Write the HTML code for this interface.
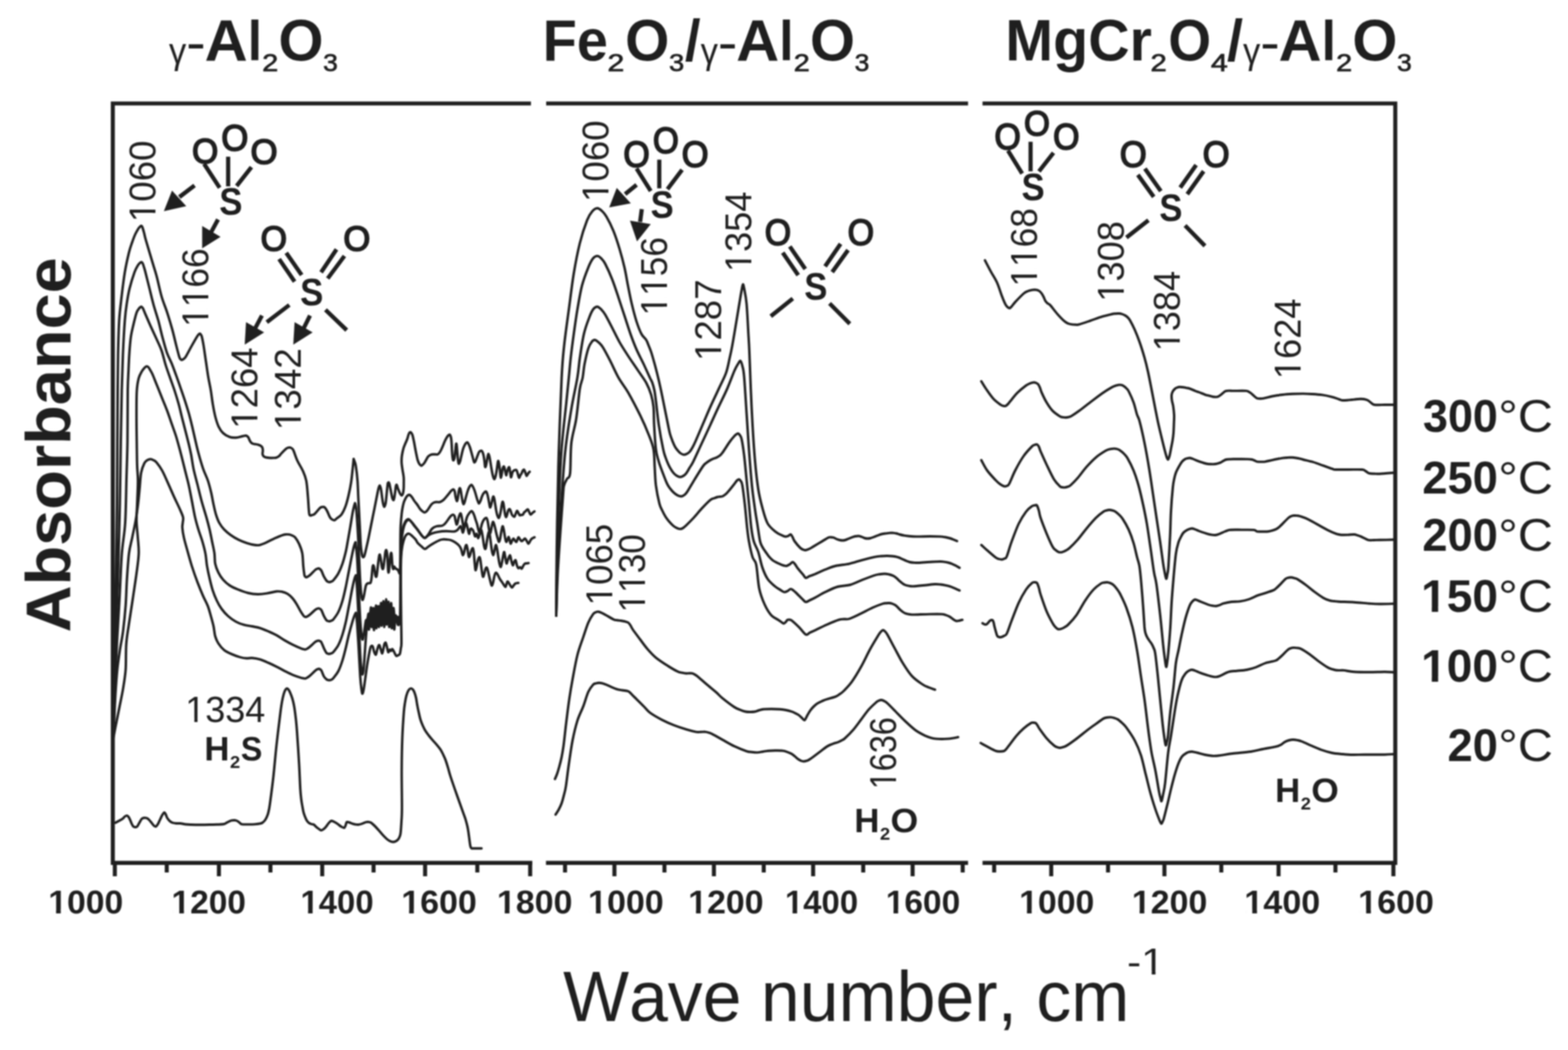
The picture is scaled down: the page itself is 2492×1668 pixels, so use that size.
<!DOCTYPE html>
<html lang="en"><head><meta charset="utf-8"><title>IR spectra</title>
<style>
html,body{margin:0;padding:0;background:#fff;}
body{width:2492px;height:1668px;overflow:hidden;}
svg{display:block;filter:blur(0.9px);}
text{font-family:"Liberation Sans",sans-serif;fill:#1f1f1f;}
.nk{font-kerning:none;}
.b{font-weight:700;}
.ax{stroke:#1f1f1f;stroke-width:6.4;fill:none;stroke-linecap:butt;}
.cv{stroke:#1f1f1f;stroke-width:3.9;fill:none;stroke-linejoin:round;stroke-linecap:round;}
.bd{stroke:#1f1f1f;stroke-width:6.6;fill:none;stroke-linecap:butt;}
.ar{fill:#1f1f1f;stroke:none;}
</style></head><body>
<svg xmlns="http://www.w3.org/2000/svg" width="2492" height="1668" viewBox="0 0 2492 1668">
<rect width="2492" height="1668" fill="#fff"/>
<path class="ax" d="M843.8,164.4 H179.3 V1370.7 H846" stroke-linejoin="miter"/>
<line class="ax" x1="868" y1="164.4" x2="1538.5" y2="164.4"/>
<line class="ax" x1="867.7" y1="1370.7" x2="1538.5" y2="1370.7"/>
<path class="ax" d="M1561.5,164.4 H2217.5 V1370.7 H1561.5" stroke-linejoin="miter"/>
<line class="ax" x1="182.5" y1="1370.7" x2="182.5" y2="1392"/>
<line class="ax" x1="347.9" y1="1370.7" x2="347.9" y2="1392"/>
<line class="ax" x1="512.1" y1="1370.7" x2="512.1" y2="1392"/>
<line class="ax" x1="675.6" y1="1370.7" x2="675.6" y2="1392"/>
<line class="ax" x1="842.6" y1="1370.7" x2="842.6" y2="1392"/>
<line class="ax" x1="265" y1="1370.7" x2="265" y2="1386"/>
<line class="ax" x1="429.8" y1="1370.7" x2="429.8" y2="1386"/>
<line class="ax" x1="593.7" y1="1370.7" x2="593.7" y2="1386"/>
<line class="ax" x1="758.6" y1="1370.7" x2="758.6" y2="1386"/>
<line class="ax" x1="976.5" y1="1370.7" x2="976.5" y2="1392"/>
<line class="ax" x1="1134.6" y1="1370.7" x2="1134.6" y2="1392"/>
<line class="ax" x1="1292.3" y1="1370.7" x2="1292.3" y2="1392"/>
<line class="ax" x1="1450.4" y1="1370.7" x2="1450.4" y2="1392"/>
<line class="ax" x1="898" y1="1370.7" x2="898" y2="1386"/>
<line class="ax" x1="1056" y1="1370.7" x2="1056" y2="1386"/>
<line class="ax" x1="1213.8" y1="1370.7" x2="1213.8" y2="1386"/>
<line class="ax" x1="1371.9" y1="1370.7" x2="1371.9" y2="1386"/>
<line class="ax" x1="1530" y1="1370.7" x2="1530" y2="1386"/>
<line class="ax" x1="1670.7" y1="1370.7" x2="1670.7" y2="1392"/>
<line class="ax" x1="1850.6" y1="1370.7" x2="1850.6" y2="1392"/>
<line class="ax" x1="2032" y1="1370.7" x2="2032" y2="1392"/>
<line class="ax" x1="2214.5" y1="1370.7" x2="2214.5" y2="1392"/>
<line class="ax" x1="1580" y1="1370.7" x2="1580" y2="1386"/>
<line class="ax" x1="1761" y1="1370.7" x2="1761" y2="1386"/>
<line class="ax" x1="1941" y1="1370.7" x2="1941" y2="1386"/>
<line class="ax" x1="2122.4" y1="1370.7" x2="2122.4" y2="1386"/>
<g transform="translate(76.65,1451.00) scale(1.0211,1.0000)"><text font-size="52.50" class="b nk">1000</text><rect x="2.62" y="-6.33" width="9.61" height="8.83" fill="#fff"/><rect x="19.48" y="-6.33" width="8.87" height="8.83" fill="#fff"/></g>
<g transform="translate(272.57,1451.00) scale(1.0139,1.0000)"><text font-size="52.50" class="b nk">1200</text><rect x="2.62" y="-6.33" width="9.61" height="8.83" fill="#fff"/><rect x="19.48" y="-6.33" width="8.87" height="8.83" fill="#fff"/></g>
<g transform="translate(477.43,1451.00) scale(0.9959,1.0000)"><text font-size="52.50" class="b nk">1400</text><rect x="2.62" y="-6.33" width="9.61" height="8.83" fill="#fff"/><rect x="19.48" y="-6.33" width="8.87" height="8.83" fill="#fff"/></g>
<g transform="translate(637.63,1451.00) scale(1.0283,1.0000)"><text font-size="52.50" class="b nk">1600</text><rect x="2.62" y="-6.33" width="9.61" height="8.83" fill="#fff"/><rect x="19.48" y="-6.33" width="8.87" height="8.83" fill="#fff"/></g>
<g transform="translate(789.63,1451.00) scale(1.0283,1.0000)"><text font-size="52.50" class="b nk">1800</text><rect x="2.62" y="-6.33" width="9.61" height="8.83" fill="#fff"/><rect x="19.48" y="-6.33" width="8.87" height="8.83" fill="#fff"/></g>
<g transform="translate(934.62,1451.00) scale(1.0292,1.0000)"><text font-size="52.50" class="b nk">1000</text><rect x="2.62" y="-6.33" width="9.61" height="8.83" fill="#fff"/><rect x="19.48" y="-6.33" width="8.87" height="8.83" fill="#fff"/></g>
<g transform="translate(1093.63,1451.00) scale(1.0274,1.0000)"><text font-size="52.50" class="b nk">1200</text><rect x="2.62" y="-6.33" width="9.61" height="8.83" fill="#fff"/><rect x="19.48" y="-6.33" width="8.87" height="8.83" fill="#fff"/></g>
<g transform="translate(1247.43,1451.00) scale(0.9959,1.0000)"><text font-size="52.50" class="b nk">1400</text><rect x="2.62" y="-6.33" width="9.61" height="8.83" fill="#fff"/><rect x="19.48" y="-6.33" width="8.87" height="8.83" fill="#fff"/></g>
<g transform="translate(1407.68,1451.00) scale(1.0130,1.0000)"><text font-size="52.50" class="b nk">1600</text><rect x="2.62" y="-6.33" width="9.61" height="8.83" fill="#fff"/><rect x="19.48" y="-6.33" width="8.87" height="8.83" fill="#fff"/></g>
<g transform="translate(1619.64,1451.00) scale(1.0238,1.0000)"><text font-size="52.50" class="b nk">1000</text><rect x="2.62" y="-6.33" width="9.61" height="8.83" fill="#fff"/><rect x="19.48" y="-6.33" width="8.87" height="8.83" fill="#fff"/></g>
<g transform="translate(1798.63,1451.00) scale(1.0283,1.0000)"><text font-size="52.50" class="b nk">1200</text><rect x="2.62" y="-6.33" width="9.61" height="8.83" fill="#fff"/><rect x="19.48" y="-6.33" width="8.87" height="8.83" fill="#fff"/></g>
<g transform="translate(1977.61,1451.00) scale(1.0327,1.0000)"><text font-size="52.50" class="b nk">1400</text><rect x="2.62" y="-6.33" width="9.61" height="8.83" fill="#fff"/><rect x="19.48" y="-6.33" width="8.87" height="8.83" fill="#fff"/></g>
<g transform="translate(2158.62,1451.00) scale(1.0301,1.0000)"><text font-size="52.50" class="b nk">1600</text><rect x="2.62" y="-6.33" width="9.61" height="8.83" fill="#fff"/><rect x="19.48" y="-6.33" width="8.87" height="8.83" fill="#fff"/></g>
<text transform="translate(894.95,1622.30) scale(0.9731,1.0000)" font-size="114.00" class="nk">Wave number, cm</text>
<g transform="translate(1791.28,1547.50) scale(1.1453,1.0000)"><text font-size="58.50" class="nk">-1</text><rect x="22.99" y="-5.36" width="11.17" height="7.86" fill="#fff"/><rect x="39.39" y="-5.36" width="10.51" height="7.86" fill="#fff"/></g>
<text transform="translate(112.00,1004.58) rotate(-90) scale(1.0262,1)" font-size="100.50" class="b nk">Absorbance</text>
<text transform="translate(268.62,101.40) scale(0.9339,1.0000)" font-size="59.00" class="nk">γ</text>
<text transform="translate(295.87,95.80) scale(1.1061,1.0000)" font-size="85.00" class="nk">-</text>
<text transform="translate(325.13,95.80) scale(1.0175,1.0000)" font-size="93.00" class="b nk">A</text>
<text transform="translate(393.80,95.80) scale(0.8759,0.9492)" font-size="93.00" class="b nk">l</text>
<text transform="translate(416.81,113.00) scale(1.1603,1.0000)" font-size="39.40" class="nk" stroke="#1f1f1f" stroke-width="1.1">2</text>
<text transform="translate(442.42,95.80) scale(0.9902,1.0000)" font-size="93.00" class="b nk">O</text>
<text transform="translate(513.42,113.00) scale(1.0687,1.0000)" font-size="39.40" class="nk" stroke="#1f1f1f" stroke-width="1.1">3</text>
<text transform="translate(862.60,95.80) scale(0.9554,1.0000)" font-size="93.00" class="b nk">Fe</text>
<text transform="translate(965.40,113.00) scale(1.2160,1.0000)" font-size="39.40" class="nk" stroke="#1f1f1f" stroke-width="1.1">2</text>
<text transform="translate(993.59,95.80) scale(0.9716,1.0000)" font-size="93.00" class="b nk">O</text>
<text transform="translate(1063.37,113.00) scale(1.1007,1.0000)" font-size="39.40" class="nk" stroke="#1f1f1f" stroke-width="1.1">3</text>
<text transform="translate(1088.50,95.80) scale(0.9646,1.0000)" font-size="93.00" class="b nk">/</text>
<text transform="translate(1113.42,101.40) scale(0.9339,1.0000)" font-size="59.00" class="nk">γ</text>
<text transform="translate(1140.67,95.80) scale(1.1061,1.0000)" font-size="85.00" class="nk">-</text>
<text transform="translate(1169.93,95.80) scale(1.0175,1.0000)" font-size="93.00" class="b nk">A</text>
<text transform="translate(1238.60,95.80) scale(0.8759,0.9492)" font-size="93.00" class="b nk">l</text>
<text transform="translate(1261.61,113.00) scale(1.1603,1.0000)" font-size="39.40" class="nk" stroke="#1f1f1f" stroke-width="1.1">2</text>
<text transform="translate(1287.22,95.80) scale(0.9902,1.0000)" font-size="93.00" class="b nk">O</text>
<text transform="translate(1358.22,113.00) scale(1.0687,1.0000)" font-size="39.40" class="nk" stroke="#1f1f1f" stroke-width="1.1">3</text>
<text transform="translate(1597.85,95.80) scale(0.9798,1.0000)" font-size="93.00" class="b nk">MgCr</text>
<text transform="translate(1828.38,113.00) scale(1.1770,1.0000)" font-size="39.40" class="nk" stroke="#1f1f1f" stroke-width="1.1">2</text>
<text transform="translate(1856.70,95.80) scale(0.9407,1.0000)" font-size="93.00" class="b nk">O</text>
<text transform="translate(1924.42,113.00) scale(1.2213,1.0000)" font-size="39.40" class="nk" stroke="#1f1f1f" stroke-width="1.1">4</text>
<text transform="translate(1950.08,95.80) scale(0.9897,1.0000)" font-size="93.00" class="b nk">/</text>
<text transform="translate(1975.42,101.40) scale(0.9339,1.0000)" font-size="59.00" class="nk">γ</text>
<text transform="translate(2002.67,95.80) scale(1.1061,1.0000)" font-size="85.00" class="nk">-</text>
<text transform="translate(2031.93,95.80) scale(1.0175,1.0000)" font-size="93.00" class="b nk">A</text>
<text transform="translate(2100.60,95.80) scale(0.8759,0.9492)" font-size="93.00" class="b nk">l</text>
<text transform="translate(2123.61,113.00) scale(1.1603,1.0000)" font-size="39.40" class="nk" stroke="#1f1f1f" stroke-width="1.1">2</text>
<text transform="translate(2149.22,95.80) scale(0.9902,1.0000)" font-size="93.00" class="b nk">O</text>
<text transform="translate(2220.22,113.00) scale(1.0687,1.0000)" font-size="39.40" class="nk" stroke="#1f1f1f" stroke-width="1.1">3</text>
<text transform="translate(2261.39,685.70) scale(0.9927,1.0000)" font-size="72.00" class="b nk">300</text>
<text transform="translate(2381.36,685.70) scale(1.0732,1.0000)" font-size="72.00" class="nk">°C</text>
<text transform="translate(2260.48,784.00) scale(1.0004,1.0000)" font-size="72.00" class="b nk">250</text>
<text transform="translate(2381.36,784.00) scale(1.0732,1.0000)" font-size="72.00" class="nk">°C</text>
<text transform="translate(2260.48,874.50) scale(1.0004,1.0000)" font-size="72.00" class="b nk">200</text>
<text transform="translate(2381.36,874.50) scale(1.0732,1.0000)" font-size="72.00" class="nk">°C</text>
<g transform="translate(2258.42,972.00) scale(1.0180,1.0000)"><text font-size="72.00" class="b nk">150</text><rect x="3.60" y="-8.35" width="13.18" height="10.85" fill="#fff"/><rect x="26.71" y="-8.35" width="12.17" height="10.85" fill="#fff"/></g>
<text transform="translate(2381.36,972.00) scale(1.0732,1.0000)" font-size="72.00" class="nk">°C</text>
<g transform="translate(2258.42,1083.00) scale(1.0180,1.0000)"><text font-size="72.00" class="b nk">100</text><rect x="3.60" y="-8.35" width="13.18" height="10.85" fill="#fff"/><rect x="26.71" y="-8.35" width="12.17" height="10.85" fill="#fff"/></g>
<text transform="translate(2381.36,1083.00) scale(1.0732,1.0000)" font-size="72.00" class="nk">°C</text>
<text transform="translate(2300.48,1209.40) scale(1.0013,1.0000)" font-size="72.00" class="b nk">20</text>
<text transform="translate(2381.36,1209.40) scale(1.0732,1.0000)" font-size="72.00" class="nk">°C</text>
<g transform="translate(246.80,352.87) rotate(-90) scale(0.9876,1)"><text font-size="59.00" class="nk">1060</text><rect x="3.54" y="-5.40" width="11.27" height="7.90" fill="#fff"/><rect x="20.08" y="-5.40" width="10.60" height="7.90" fill="#fff"/></g>
<g transform="translate(331.30,519.20) rotate(-90) scale(0.9497,1)"><text font-size="59.00" class="nk">1166</text><rect x="3.54" y="-5.40" width="11.27" height="7.90" fill="#fff"/><rect x="20.08" y="-5.40" width="10.60" height="7.90" fill="#fff"/><rect x="36.35" y="-5.40" width="11.27" height="7.90" fill="#fff"/><rect x="52.89" y="-5.40" width="10.60" height="7.90" fill="#fff"/></g>
<g transform="translate(408.70,680.95) rotate(-90) scale(0.9821,1)"><text font-size="59.00" class="nk">1264</text><rect x="3.54" y="-5.40" width="11.27" height="7.90" fill="#fff"/><rect x="20.08" y="-5.40" width="10.60" height="7.90" fill="#fff"/></g>
<g transform="translate(477.80,683.40) rotate(-90) scale(0.9934,1)"><text font-size="59.00" class="nk">1342</text><rect x="3.54" y="-5.40" width="11.27" height="7.90" fill="#fff"/><rect x="20.08" y="-5.40" width="10.60" height="7.90" fill="#fff"/></g>
<g transform="translate(966.50,320.87) rotate(-90) scale(0.9876,1)"><text font-size="59.00" class="nk">1060</text><rect x="3.54" y="-5.40" width="11.27" height="7.90" fill="#fff"/><rect x="20.08" y="-5.40" width="10.60" height="7.90" fill="#fff"/></g>
<g transform="translate(1060.00,501.20) rotate(-90) scale(0.9497,1)"><text font-size="59.00" class="nk">1156</text><rect x="3.54" y="-5.40" width="11.27" height="7.90" fill="#fff"/><rect x="20.08" y="-5.40" width="10.60" height="7.90" fill="#fff"/><rect x="36.35" y="-5.40" width="11.27" height="7.90" fill="#fff"/><rect x="52.89" y="-5.40" width="10.60" height="7.90" fill="#fff"/></g>
<g transform="translate(1145.80,573.36) rotate(-90) scale(0.9854,1)"><text font-size="59.00" class="nk">1287</text><rect x="3.54" y="-5.40" width="11.27" height="7.90" fill="#fff"/><rect x="20.08" y="-5.40" width="10.60" height="7.90" fill="#fff"/></g>
<g transform="translate(1194.40,432.11) rotate(-90) scale(0.9733,1)"><text font-size="59.00" class="nk">1354</text><rect x="3.54" y="-5.40" width="11.27" height="7.90" fill="#fff"/><rect x="20.08" y="-5.40" width="10.60" height="7.90" fill="#fff"/></g>
<g transform="translate(1648.00,455.20) rotate(-90) scale(0.9497,1)"><text font-size="59.00" class="nk">1168</text><rect x="3.54" y="-5.40" width="11.27" height="7.90" fill="#fff"/><rect x="20.08" y="-5.40" width="10.60" height="7.90" fill="#fff"/><rect x="36.35" y="-5.40" width="11.27" height="7.90" fill="#fff"/><rect x="52.89" y="-5.40" width="10.60" height="7.90" fill="#fff"/></g>
<g transform="translate(1785.50,479.32) rotate(-90) scale(0.9770,1)"><text font-size="59.00" class="nk">1308</text><rect x="3.54" y="-5.40" width="11.27" height="7.90" fill="#fff"/><rect x="20.08" y="-5.40" width="10.60" height="7.90" fill="#fff"/></g>
<g transform="translate(1874.60,558.11) rotate(-90) scale(0.9741,1)"><text font-size="59.00" class="nk">1384</text><rect x="3.54" y="-5.40" width="11.27" height="7.90" fill="#fff"/><rect x="20.08" y="-5.40" width="10.60" height="7.90" fill="#fff"/></g>
<g transform="translate(2067.00,602.31) rotate(-90) scale(0.9749,1)"><text font-size="59.00" class="nk">1624</text><rect x="3.54" y="-5.40" width="11.27" height="7.90" fill="#fff"/><rect x="20.08" y="-5.40" width="10.60" height="7.90" fill="#fff"/></g>
<g transform="translate(973.30,961.67) rotate(-90) scale(0.9879,1)"><text font-size="59.00" class="nk">1065</text><rect x="3.54" y="-5.40" width="11.27" height="7.90" fill="#fff"/><rect x="20.08" y="-5.40" width="10.60" height="7.90" fill="#fff"/></g>
<g transform="translate(1025.00,973.00) rotate(-90) scale(0.9482,1)"><text font-size="59.00" class="nk">1130</text><rect x="3.54" y="-5.40" width="11.27" height="7.90" fill="#fff"/><rect x="20.08" y="-5.40" width="10.60" height="7.90" fill="#fff"/><rect x="36.35" y="-5.40" width="11.27" height="7.90" fill="#fff"/><rect x="52.89" y="-5.40" width="10.60" height="7.90" fill="#fff"/></g>
<g transform="translate(1423.60,1253.86) rotate(-90) scale(0.8732,1)"><text font-size="59.00" class="nk">1636</text><rect x="3.54" y="-5.40" width="11.27" height="7.90" fill="#fff"/><rect x="20.08" y="-5.40" width="10.60" height="7.90" fill="#fff"/></g>
<g transform="translate(294.51,1146.50) scale(0.9938,1.0000)"><text font-size="57.50" class="nk">1334</text><rect x="3.45" y="-5.28" width="10.98" height="7.78" fill="#fff"/><rect x="19.57" y="-5.28" width="10.33" height="7.78" fill="#fff"/></g>
<text transform="translate(324.67,1208.00) scale(1.0244,1.0000)" font-size="54.00" class="b nk">H</text>
<text transform="translate(365.38,1220.00) scale(1.0606,1.0000)" font-size="27.50" class="b nk">2</text>
<text transform="translate(382.86,1208.00) scale(0.9484,1.0000)" font-size="54.00" class="b nk">S</text>
<text transform="translate(1357.87,1321.50) scale(1.0244,1.0000)" font-size="54.00" class="b nk">H</text>
<text transform="translate(1398.58,1333.50) scale(1.0606,1.0000)" font-size="27.50" class="b nk">2</text>
<text transform="translate(1415.33,1321.50) scale(1.0498,1.0000)" font-size="54.00" class="b nk">O</text>
<text transform="translate(2026.57,1273.80) scale(1.0244,1.0000)" font-size="54.00" class="b nk">H</text>
<text transform="translate(2067.28,1285.80) scale(1.0606,1.0000)" font-size="27.50" class="b nk">2</text>
<text transform="translate(2084.05,1273.80) scale(1.0418,1.0000)" font-size="54.00" class="b nk">O</text>
<text transform="translate(351.78,238.92) scale(0.9507,1.0000)" font-size="57.95" class="nk" stroke="#1f1f1f" stroke-width="2.6" stroke-linejoin="round">O</text>
<text transform="translate(305.36,259.14) scale(0.9483,1.0000)" font-size="56.40" class="nk" stroke="#1f1f1f" stroke-width="2.6" stroke-linejoin="round">O</text>
<text transform="translate(398.28,259.64) scale(0.9769,1.0000)" font-size="56.40" class="nk" stroke="#1f1f1f" stroke-width="2.6" stroke-linejoin="round">O</text>
<text transform="translate(348.54,341.18) scale(0.8962,1.0000)" font-size="61.63" class="b nk">S</text>
<line class="bd" x1="324.4" y1="260.4" x2="349.1" y2="298.2"/>
<line class="bd" x1="362.6" y1="248.9" x2="362.6" y2="296"/>
<line class="bd" x1="399.6" y1="265.5" x2="376.1" y2="295.4"/>
<line class="bd" x1="309.2" y1="294.7" x2="285.1" y2="313"/>
<polygon class="ar" points="260.4,335.4 273.4,302.7 296,327.4"/>
<line class="bd" x1="346.5" y1="348.6" x2="335.6" y2="368.7"/>
<polygon class="ar" points="321.3,394.6 321.3,359 350.5,376.2"/>
<text transform="translate(414.35,397.74) scale(0.9631,1.0000)" font-size="55.83" class="nk" stroke="#1f1f1f" stroke-width="2.6" stroke-linejoin="round">O</text>
<text transform="translate(545.69,397.74) scale(0.9841,1.0000)" font-size="55.83" class="nk" stroke="#1f1f1f" stroke-width="2.6" stroke-linejoin="round">O</text>
<text transform="translate(477.04,485.29) scale(0.8983,1.0000)" font-size="61.48" class="b nk">S</text>
<line class="bd" x1="443.6" y1="411.5" x2="468.2" y2="447.3"/>
<line class="bd" x1="454.9" y1="401.7" x2="479.4" y2="436.8"/>
<line class="bd" x1="534.8" y1="396.1" x2="510.3" y2="432.6"/>
<line class="bd" x1="547.4" y1="406.6" x2="520.8" y2="442.4"/>
<line class="bd" x1="459.8" y1="484.5" x2="424" y2="511.8"/>
<line class="bd" x1="517.3" y1="492.2" x2="551" y2="524.5"/>
<line class="bd" x1="416.3" y1="501.3" x2="405.8" y2="521"/>
<polygon class="ar" points="388.9,547.6 391,511.8 419.8,528"/>
<line class="bd" x1="492.7" y1="501.3" x2="482.9" y2="521"/>
<polygon class="ar" points="466.1,547.6 468.2,511.8 496.9,528"/>
<text transform="translate(990.85,265.13) scale(0.9464,1.0000)" font-size="56.82" class="nk" stroke="#1f1f1f" stroke-width="2.6" stroke-linejoin="round">O</text>
<text transform="translate(1037.79,243.33) scale(0.9283,1.0000)" font-size="56.82" class="nk" stroke="#1f1f1f" stroke-width="2.6" stroke-linejoin="round">O</text>
<text transform="translate(1083.40,265.13) scale(0.9618,1.0000)" font-size="56.82" class="nk" stroke="#1f1f1f" stroke-width="2.6" stroke-linejoin="round">O</text>
<text transform="translate(1033.95,346.29) scale(0.8956,1.0000)" font-size="61.48" class="b nk">S</text>
<line class="bd" x1="1011.7" y1="267.7" x2="1034.2" y2="303.4"/>
<line class="bd" x1="1047.8" y1="253.6" x2="1047.8" y2="299.2"/>
<line class="bd" x1="1084" y1="269.8" x2="1060.8" y2="300.6"/>
<line class="bd" x1="1011.7" y1="293.6" x2="993.5" y2="308.4"/>
<polygon class="ar" points="968.2,329.4 980.2,298.5 1002.6,323"/>
<line class="bd" x1="1020" y1="332.2" x2="1017.3" y2="352.5"/>
<polygon class="ar" points="1012.4,383.4 1001.2,350.4 1034.2,356"/>
<text transform="translate(1215.45,388.93) scale(0.9438,1.0000)" font-size="56.82" class="nk" stroke="#1f1f1f" stroke-width="2.6" stroke-linejoin="round">O</text>
<text transform="translate(1347.25,388.93) scale(0.9464,1.0000)" font-size="56.82" class="nk" stroke="#1f1f1f" stroke-width="2.6" stroke-linejoin="round">O</text>
<text transform="translate(1278.15,475.80) scale(0.9102,1.0000)" font-size="60.49" class="b nk">S</text>
<line class="bd" x1="1244" y1="401.4" x2="1268.6" y2="437.1"/>
<line class="bd" x1="1255.2" y1="391.5" x2="1279.8" y2="427.3"/>
<line class="bd" x1="1335.9" y1="387.3" x2="1311.3" y2="423.1"/>
<line class="bd" x1="1347.8" y1="397.2" x2="1322.6" y2="432.2"/>
<line class="bd" x1="1260" y1="474.3" x2="1225" y2="502.4"/>
<line class="bd" x1="1318.4" y1="482" x2="1350.6" y2="514.3"/>
<text transform="translate(1580.45,236.73) scale(0.9464,1.0000)" font-size="56.82" class="nk" stroke="#1f1f1f" stroke-width="2.6" stroke-linejoin="round">O</text>
<text transform="translate(1627.49,214.94) scale(0.9448,1.0000)" font-size="55.83" class="nk" stroke="#1f1f1f" stroke-width="2.6" stroke-linejoin="round">O</text>
<text transform="translate(1673.75,236.73) scale(0.9464,1.0000)" font-size="56.82" class="nk" stroke="#1f1f1f" stroke-width="2.6" stroke-linejoin="round">O</text>
<text transform="translate(1623.54,317.90) scale(0.9130,1.0000)" font-size="60.49" class="b nk">S</text>
<line class="bd" x1="1602" y1="239.3" x2="1624.5" y2="275.7"/>
<line class="bd" x1="1637.9" y1="225.2" x2="1637.9" y2="272.2"/>
<line class="bd" x1="1674.3" y1="242.8" x2="1651.2" y2="272.2"/>
<text transform="translate(1779.70,264.53) scale(0.9668,1.0000)" font-size="56.68" class="nk" stroke="#1f1f1f" stroke-width="2.6" stroke-linejoin="round">O</text>
<text transform="translate(1911.60,264.53) scale(0.9668,1.0000)" font-size="56.68" class="nk" stroke="#1f1f1f" stroke-width="2.6" stroke-linejoin="round">O</text>
<text transform="translate(1842.55,350.70) scale(0.9102,1.0000)" font-size="60.49" class="b nk">S</text>
<line class="bd" x1="1808.4" y1="277.7" x2="1833.6" y2="312.7"/>
<line class="bd" x1="1819.6" y1="267.9" x2="1844.9" y2="303.6"/>
<line class="bd" x1="1901" y1="262.2" x2="1875.7" y2="298"/>
<line class="bd" x1="1912.9" y1="272" x2="1886.9" y2="308.5"/>
<line class="bd" x1="1825.2" y1="349.9" x2="1790.2" y2="377.3"/>
<line class="bd" x1="1883.4" y1="358.3" x2="1915" y2="390.6"/>
<path class="cv" d="M180.5,1090.0C180.6,1088.3 180.8,1091.7 181.0,1080.0C181.2,1068.3 181.6,1041.7 182.0,1020.0C182.4,998.3 183.0,973.3 183.5,950.0C184.0,926.7 184.6,905.0 185.0,880.0C185.4,855.0 185.8,830.0 186.0,800.0C186.2,770.0 186.3,730.0 186.5,700.0C186.7,670.0 186.8,643.3 187.0,620.0C187.2,596.7 187.3,578.5 187.7,560.0C188.1,541.5 188.5,523.9 189.4,509.0C190.3,494.1 191.8,483.6 193.3,470.8C194.8,458.0 196.5,443.9 198.4,432.4C200.3,420.9 202.9,409.6 204.8,401.7C206.7,393.8 208.3,389.9 210.0,385.0C211.7,380.1 213.3,375.7 215.0,372.0C216.7,368.3 218.7,365.1 220.0,363.0C221.3,360.9 222.2,360.3 223.0,359.6C223.8,358.9 224.1,358.5 224.7,358.8C225.3,359.1 225.8,359.6 226.5,361.5C227.2,363.4 228.1,366.8 229.0,370.0C229.9,373.2 229.3,372.7 231.7,381.0C234.1,389.3 240.3,409.9 243.2,419.6C246.1,429.3 246.7,430.4 249.0,439.0C251.3,447.6 254.0,461.4 256.8,471.0C259.6,480.6 263.0,488.2 265.8,496.8C268.6,505.4 271.1,513.9 273.5,522.4C275.9,530.9 278.0,540.5 279.9,548.0C281.8,555.5 283.8,563.4 285.0,567.2C286.2,571.0 286.4,569.9 287.0,570.6C287.6,571.4 288.1,571.7 288.8,571.7C289.6,571.7 290.5,571.3 291.5,570.5C292.5,569.7 292.9,570.3 295.0,567.0C297.1,563.7 301.0,555.9 304.0,550.6C307.0,545.3 311.0,538.3 313.0,535.0C315.0,531.7 315.2,531.8 316.0,531.0C316.8,530.2 317.1,530.0 317.6,530.0C318.1,530.0 318.5,530.5 319.0,531.3C319.5,532.1 320.1,532.2 320.8,535.0C321.5,537.8 322.3,541.6 323.4,548.0C324.5,554.4 325.9,565.1 327.2,573.6C328.5,582.1 329.7,591.3 331.0,599.0C332.3,606.7 333.8,612.8 335.0,620.0C336.2,627.2 337.0,634.9 338.2,642.0C339.4,649.1 340.8,656.4 342.3,662.4C343.9,668.4 345.4,673.5 347.5,677.8C349.6,682.1 351.7,685.3 354.6,688.0C357.5,690.7 361.5,693.0 364.9,694.2C368.3,695.4 371.6,695.4 375.0,695.2C378.4,695.0 382.7,693.5 385.4,693.0C388.1,692.5 389.5,691.8 391.0,692.0C392.5,692.2 393.5,693.2 394.5,694.5C395.5,695.8 396.2,698.5 397.0,700.0C397.8,701.5 398.6,702.7 399.5,703.5C400.4,704.3 401.2,704.6 402.3,705.0C403.4,705.4 404.7,705.4 406.0,705.6C407.3,705.8 408.7,706.0 410.0,706.4C411.3,706.8 412.9,707.4 414.0,708.0C415.1,708.6 415.8,709.2 416.4,710.0C417.0,710.8 417.3,711.9 417.5,713.0C417.7,714.1 417.7,715.5 417.7,716.6C417.7,717.7 417.3,718.5 417.3,719.5C417.3,720.5 417.1,721.5 417.5,722.5C417.9,723.5 418.8,724.9 420.0,725.6C421.2,726.4 423.2,726.7 425.0,727.0C426.8,727.3 428.8,727.4 430.5,727.5C432.2,727.6 433.5,727.5 435.0,727.4C436.5,727.3 438.0,727.4 439.4,726.9C440.8,726.4 442.2,725.6 443.5,724.5C444.8,723.4 445.1,722.5 447.0,720.5C448.9,718.5 453.0,714.3 454.8,712.8C456.6,711.2 456.9,711.5 458.0,711.2C459.1,710.9 460.2,710.7 461.2,710.9C462.2,711.1 463.1,711.8 464.0,712.5C464.9,713.2 464.9,712.1 466.3,715.4C467.8,718.6 470.1,726.5 472.7,732.0C475.3,737.5 479.3,743.4 481.7,748.7C484.1,754.0 485.5,757.2 486.8,764.0C488.1,770.8 488.8,782.6 489.4,789.6C490.0,796.6 490.2,801.8 490.5,806.0C490.8,810.2 491.1,813.0 491.3,815.0C491.6,817.0 491.6,817.3 492.0,818.0C492.4,818.7 492.8,819.0 493.5,819.0C494.2,819.0 495.4,818.4 496.5,818.0C497.6,817.6 498.0,818.3 500.0,816.5C502.0,814.7 506.5,808.8 508.5,807.0C510.5,805.2 510.8,805.7 512.0,805.5C513.2,805.3 514.7,804.9 516.0,806.0C517.3,807.1 518.7,809.5 520.0,812.0C521.3,814.5 522.8,818.8 524.0,821.0C525.2,823.2 526.2,824.1 527.5,825.0C528.8,825.9 530.4,826.6 531.6,826.4C532.9,826.2 533.1,825.2 535.0,823.7C536.9,822.2 540.4,820.5 542.7,817.3C545.0,814.1 547.1,809.7 549.0,804.6C550.9,799.5 552.5,793.1 554.0,786.7C555.5,780.3 556.9,773.3 558.0,766.3C559.1,759.3 559.9,749.8 560.5,744.6C561.1,739.4 561.2,737.5 561.5,735.0C561.8,732.5 561.9,730.2 562.0,729.3"/>
<path class="cv" d="M562.0,729.3C562.2,729.9 562.9,731.1 563.5,733.0C564.1,734.9 564.8,735.7 565.6,740.8C566.4,745.9 567.6,755.7 568.2,763.8C568.8,771.9 569.0,780.8 569.4,789.3C569.8,797.8 570.3,806.3 570.7,814.8C571.1,823.3 571.6,831.8 572.0,840.3C572.4,848.8 572.8,859.0 573.3,865.8C573.8,872.6 574.7,877.9 575.2,881.0C575.7,884.1 576.1,883.8 576.5,884.5C576.9,885.2 577.3,885.2 577.7,885.0C578.1,884.8 578.6,884.1 579.0,883.0C579.4,881.9 579.3,882.5 580.3,878.6C581.2,874.7 583.1,866.8 584.7,859.4C586.3,852.0 588.1,842.5 589.8,834.0C591.5,825.5 593.3,816.9 595.0,808.4C596.7,799.9 598.9,788.6 600.0,783.0C601.1,777.4 601.3,776.9 601.8,775.0C602.3,773.1 602.8,771.6 603.2,771.4C603.7,771.1 604.1,772.2 604.5,773.5C604.9,774.8 605.2,775.1 605.8,779.0C606.4,782.9 607.6,793.0 608.3,797.0C608.9,801.0 609.3,801.7 609.7,803.0C610.1,804.3 610.5,805.2 610.9,805.0C611.3,804.8 611.8,803.5 612.2,802.0C612.6,800.5 612.8,801.0 613.4,795.7C614.0,790.4 615.4,774.8 616.0,770.0C616.6,765.2 616.7,767.6 617.0,767.0C617.3,766.4 617.6,766.0 617.9,766.3C618.2,766.6 618.6,767.3 619.0,769.0C619.4,770.7 619.8,773.1 620.5,776.5C621.2,779.9 622.4,786.5 623.0,789.3C623.6,792.1 624.0,792.4 624.4,793.3C624.8,794.1 625.2,794.9 625.6,794.4C626.0,793.9 626.4,792.1 626.8,790.0C627.2,787.9 627.6,784.4 628.0,781.6C628.4,778.8 628.7,774.9 629.0,773.0C629.3,771.1 629.6,770.2 630.0,770.0C630.4,769.8 630.8,770.9 631.2,772.0C631.6,773.1 631.8,774.5 632.6,776.5C633.4,778.5 635.0,782.4 635.8,784.0C636.6,785.6 637.0,785.8 637.5,786.3C638.0,786.8 638.5,787.2 639.0,786.7C639.5,786.2 640.1,785.2 640.5,783.5C640.9,781.8 641.3,779.2 641.5,776.5C641.7,773.8 641.7,770.2 641.7,767.0C641.7,763.8 641.9,761.1 641.5,757.4C641.1,753.7 640.0,748.6 639.5,745.0C639.0,741.4 638.5,738.7 638.3,735.7C638.1,732.7 638.2,729.8 638.4,727.0C638.6,724.2 639.1,721.5 639.6,719.0C640.1,716.5 640.7,714.1 641.3,712.0C641.9,709.9 642.4,708.8 643.4,706.4C644.4,704.0 646.1,700.4 647.2,697.5C648.3,694.6 648.9,690.9 649.8,689.0C650.6,687.1 651.5,686.5 652.3,686.4C653.0,686.3 653.7,687.5 654.3,688.5C654.9,689.5 655.3,690.2 655.9,692.5C656.5,694.8 657.3,698.6 658.0,702.0C658.7,705.4 659.3,709.5 660.0,713.0C660.7,716.5 661.3,719.9 662.0,723.0C662.7,726.1 663.2,729.2 664.0,731.5C664.8,733.8 665.6,735.6 666.5,737.0C667.4,738.4 668.4,739.5 669.2,739.7C670.0,740.0 670.6,739.2 671.5,738.5C672.4,737.8 673.3,736.9 674.3,735.6C675.3,734.3 676.3,732.2 677.3,730.5C678.3,728.8 679.3,726.6 680.4,725.3C681.5,724.0 682.8,723.3 684.0,722.7C685.2,722.1 686.3,721.9 687.6,721.7C688.9,721.6 690.6,721.8 692.0,721.8C693.4,721.8 694.7,722.2 695.8,721.7C696.9,721.2 697.6,720.1 698.5,719.0C699.4,717.9 700.0,716.8 700.9,715.0C701.8,713.2 703.0,710.4 704.0,708.0C705.0,705.6 706.0,702.9 707.0,700.7C708.0,698.5 709.1,696.5 710.0,695.0C710.9,693.5 711.5,692.7 712.2,692.0C712.9,691.3 713.5,690.8 714.0,690.6C714.5,690.4 714.9,690.4 715.3,691.0C715.7,691.6 716.2,692.7 716.5,694.0C716.8,695.3 717.1,696.5 717.3,698.7C717.5,700.9 717.7,704.1 717.9,707.0C718.1,709.9 718.1,713.0 718.3,716.0C718.5,719.0 718.7,722.6 719.0,725.0C719.3,727.4 719.6,729.4 719.9,730.4C720.2,731.4 720.6,731.5 721.0,731.0C721.4,730.5 721.8,730.2 722.3,727.4C722.8,724.6 723.3,717.8 723.8,714.0C724.2,710.2 724.6,705.6 725.0,704.8C725.4,704.0 725.7,706.3 726.0,709.0C726.3,711.7 726.7,717.2 727.0,721.0C727.3,724.8 727.7,729.4 728.0,732.0C728.3,734.6 728.6,736.1 729.0,736.6C729.4,737.1 729.9,735.9 730.3,735.0C730.7,734.1 731.1,733.5 731.6,731.5C732.1,729.5 732.8,725.9 733.5,723.0C734.2,720.1 735.0,716.4 735.7,714.0C736.4,711.6 737.1,710.0 737.8,708.5C738.5,707.0 739.2,705.7 739.8,704.8C740.4,703.9 741.0,703.5 741.5,703.2C742.0,702.9 742.3,702.3 742.9,702.8C743.5,703.3 744.3,704.6 745.0,706.0C745.7,707.4 746.3,709.0 747.0,711.0C747.7,713.0 748.3,715.6 749.0,718.0C749.7,720.4 750.4,723.1 751.0,725.3C751.6,727.5 752.0,729.5 752.5,731.0C753.0,732.5 753.2,734.2 753.7,734.5C754.2,734.8 754.9,734.0 755.5,733.0C756.1,732.0 756.6,730.0 757.3,728.3C758.0,726.5 758.8,724.2 759.5,722.5C760.2,720.8 760.7,719.0 761.4,718.0C762.1,717.0 762.8,716.5 763.5,716.2C764.2,715.9 764.9,715.6 765.5,716.0C766.1,716.4 766.5,717.3 767.0,718.5C767.5,719.7 768.0,720.9 768.5,723.3C769.0,725.7 769.6,729.9 770.0,733.0C770.4,736.1 770.6,740.5 771.0,741.7C771.4,742.9 771.9,741.4 772.3,740.0C772.7,738.6 773.1,736.0 773.6,733.5C774.1,731.0 774.6,727.1 775.0,725.0C775.4,722.9 775.8,721.0 776.2,721.0C776.7,721.0 777.2,722.9 777.7,725.0C778.2,727.1 778.8,730.3 779.3,733.5C779.8,736.7 780.4,740.6 781.0,744.0C781.6,747.4 782.3,751.4 782.9,754.0C783.5,756.6 784.0,758.3 784.5,759.5C785.0,760.7 785.4,761.4 785.9,761.0C786.4,760.6 787.0,758.9 787.5,757.0C788.0,755.1 788.5,752.7 789.0,749.7C789.5,746.7 790.1,741.9 790.5,739.0C790.9,736.1 791.2,733.2 791.6,732.5C792.0,731.8 792.4,733.1 792.8,735.0C793.2,736.9 793.7,740.6 794.1,743.8C794.5,747.0 794.9,751.5 795.2,754.0C795.5,756.5 795.6,759.0 796.0,759.0C796.4,759.0 796.8,756.4 797.3,754.0C797.8,751.6 798.2,746.9 798.7,744.8C799.2,742.7 799.6,742.0 800.0,741.5C800.4,741.0 800.8,740.5 801.3,741.7C801.8,743.0 802.5,746.8 803.0,749.0C803.5,751.2 804.0,754.7 804.4,755.0C804.8,755.3 805.2,752.5 805.6,751.0C806.0,749.5 806.5,747.2 807.0,745.8C807.5,744.4 807.9,743.2 808.3,742.7C808.7,742.2 809.1,741.5 809.5,742.7C809.9,743.9 810.4,747.5 810.8,750.0C811.2,752.5 811.6,757.2 812.0,758.0C812.4,758.8 812.9,756.4 813.3,755.0C813.7,753.6 813.9,751.2 814.6,749.9C815.3,748.6 816.5,747.5 817.5,747.0C818.5,746.5 819.9,745.8 820.8,746.8C821.7,747.8 822.3,751.0 823.0,753.0C823.7,755.0 824.2,758.7 824.9,759.0C825.6,759.3 826.3,756.2 827.0,755.0C827.7,753.8 828.3,753.1 829.0,751.9C829.7,750.6 830.3,748.4 831.0,747.5C831.7,746.6 832.3,745.7 833.0,746.3C833.7,746.9 834.3,749.4 835.0,751.0C835.7,752.6 836.2,755.8 837.0,756.0C837.8,756.2 838.7,753.1 839.5,752.0C840.3,750.9 841.4,749.8 841.8,749.4"/>
<path class="cv" d="M181.0,1115.0C181.1,1114.2 181.1,1122.5 181.5,1110.0C181.9,1097.5 182.8,1065.0 183.5,1040.0C184.2,1015.0 185.2,986.7 186.0,960.0C186.8,933.3 187.8,906.7 188.5,880.0C189.2,853.3 189.9,830.0 190.5,800.0C191.1,770.0 191.5,730.0 192.0,700.0C192.5,670.0 192.9,643.3 193.5,620.0C194.1,596.7 194.7,578.5 195.5,560.0C196.3,541.5 197.4,522.0 198.4,509.0C199.4,496.0 200.2,490.5 201.5,482.0C202.8,473.5 203.9,466.3 206.0,458.0C208.1,449.7 211.6,438.6 213.8,432.4C216.1,426.2 218.0,423.5 219.5,421.0C221.0,418.5 222.1,418.0 223.0,417.2C223.9,416.4 224.2,416.2 224.8,416.4C225.4,416.6 226.1,417.1 226.8,418.5C227.5,419.9 228.3,422.6 229.0,425.0C229.7,427.4 229.8,427.2 231.2,432.8C232.6,438.4 235.5,449.9 237.6,458.4C239.7,466.9 241.7,475.5 244.0,484.0C246.3,492.5 249.4,501.1 251.7,509.6C254.0,518.1 255.7,526.5 258.0,535.0C260.3,543.5 262.9,553.4 265.3,560.4C267.8,567.4 270.3,571.1 272.7,577.0C275.1,582.9 277.4,589.4 279.8,595.9C282.2,602.4 284.6,609.5 287.0,616.3C289.4,623.1 291.8,630.0 294.0,636.8C296.2,643.6 298.4,650.5 300.3,657.3C302.2,664.1 303.9,671.0 305.5,677.8C307.1,684.6 308.6,691.4 310.2,698.3C311.8,705.2 313.1,711.2 315.2,719.0C317.3,726.8 320.3,737.3 322.9,744.8C325.5,752.3 328.5,757.6 330.6,764.0C332.7,770.4 334.2,776.6 335.7,783.0C337.2,789.4 338.3,796.6 339.6,802.4C340.9,808.2 341.9,813.1 343.4,817.8C344.9,822.5 346.4,826.8 348.5,830.6C350.6,834.4 353.0,837.6 356.0,840.8C359.0,844.0 362.6,847.0 366.5,849.8C370.4,852.6 375.1,855.4 379.3,857.5C383.6,859.6 387.7,861.2 392.0,862.6C396.3,864.0 401.5,865.3 404.9,865.8C408.3,866.3 409.5,866.4 412.5,865.8C415.5,865.2 418.7,863.8 422.8,862.0C426.9,860.2 432.4,857.0 436.9,855.0C441.4,853.0 446.7,850.8 449.7,849.8C452.7,848.8 453.3,849.0 455.0,848.9C456.7,848.8 458.3,848.9 459.9,849.2C461.5,849.5 463.0,850.1 464.5,850.8C466.0,851.5 467.1,851.4 468.9,853.6C470.7,855.8 473.4,859.7 475.3,863.9C477.2,868.1 479.3,873.1 480.4,879.0C481.5,884.9 481.5,893.8 482.0,899.0C482.5,904.2 482.9,907.4 483.3,910.0C483.7,912.6 483.6,913.6 484.2,914.8C484.8,916.0 485.7,916.8 486.6,917.0C487.5,917.2 488.4,916.4 489.5,915.8C490.6,915.2 491.1,915.0 493.0,913.3C494.9,911.6 498.9,907.2 500.7,905.6C502.5,904.0 503.0,904.0 504.0,903.6C505.0,903.2 505.7,902.9 506.5,903.0C507.3,903.1 508.1,903.6 508.8,904.3C509.6,905.0 510.0,905.1 511.0,907.0C512.0,908.9 513.5,913.4 514.8,915.9C516.1,918.4 517.6,920.6 518.6,922.0C519.6,923.4 520.1,923.5 521.0,924.0C521.9,924.5 522.8,924.8 523.8,924.8C524.8,924.8 525.8,924.3 526.8,923.8C527.8,923.3 528.2,923.8 530.0,921.6C531.8,919.4 535.4,915.1 537.8,910.7C540.2,906.3 542.4,901.0 544.3,895.4C546.2,889.8 547.9,883.2 549.4,877.0C550.9,870.8 551.8,864.5 553.0,858.0C554.2,851.5 555.2,845.3 556.5,838.0C557.8,830.7 559.4,819.8 560.5,814.0C561.6,808.2 562.4,805.4 563.0,803.0C563.6,800.6 564.1,800.1 564.3,799.5"/>
<path class="cv" d="M564.3,799.5C564.7,801.6 565.6,801.9 566.5,812.0C567.4,822.1 568.6,842.8 569.5,860.0C570.4,877.2 571.2,901.2 572.0,915.0C572.8,928.8 573.3,936.7 574.0,943.0C574.7,949.3 575.2,952.5 576.0,953.0C576.8,953.5 577.6,949.8 578.5,946.0C579.4,942.2 580.5,933.2 581.6,930.0C582.7,926.8 583.8,927.2 585.0,926.5C586.2,925.8 587.9,927.4 588.8,926.0C589.7,924.6 589.9,922.4 590.5,918.0C591.1,913.6 591.7,902.2 592.4,899.4C593.1,896.6 593.8,898.6 594.5,901.0C595.2,903.4 595.8,911.7 596.5,914.0C597.2,916.3 597.8,917.5 598.5,915.0C599.2,912.5 599.8,904.6 600.5,899.0C601.2,893.4 602.2,883.5 603.0,881.5C603.8,879.5 604.3,883.8 605.0,887.0C605.7,890.2 606.3,898.3 607.0,901.0C607.7,903.7 608.3,905.0 609.0,903.0C609.7,901.0 610.4,893.3 611.0,889.0C611.6,884.7 612.0,879.5 612.5,877.0C613.0,874.5 613.5,873.2 614.0,874.0C614.5,874.8 615.0,876.7 615.5,882.0C616.0,887.3 616.4,901.7 616.8,906.0C617.2,910.3 617.5,910.2 618.0,908.0C618.5,905.8 619.0,897.7 619.5,893.0C620.0,888.3 620.5,882.1 621.0,880.0C621.5,877.9 621.8,877.1 622.3,880.3C622.8,883.5 623.2,895.0 623.7,899.0C624.2,903.0 624.5,903.8 625.0,904.0C625.5,904.2 625.9,900.2 626.5,900.0C627.1,899.8 627.7,902.2 628.5,903.0C629.3,903.8 630.7,903.8 631.5,904.5C632.3,905.2 632.9,906.6 633.5,907.5C634.1,908.4 634.9,912.9 635.4,910.0C635.9,907.1 636.1,898.3 636.2,890.0C636.4,881.7 636.2,869.2 636.3,860.0C636.4,850.8 636.4,842.5 636.8,835.0C637.2,827.5 637.9,820.3 638.5,815.0C639.1,809.7 639.8,806.2 640.5,803.0C641.2,799.8 641.5,798.4 642.5,796.0C643.5,793.6 645.1,790.2 646.5,788.5C647.9,786.8 649.3,785.8 650.6,786.0C651.9,786.2 653.1,787.8 654.5,789.5C655.9,791.2 657.3,794.0 658.7,796.0C660.1,798.0 661.5,799.4 663.0,801.5C664.5,803.6 666.2,806.7 667.6,808.5C669.0,810.3 670.3,811.4 671.5,812.3C672.7,813.2 673.8,814.1 675.0,814.0C676.2,813.9 677.3,812.7 678.5,811.5C679.7,810.3 680.8,808.4 682.0,806.7C683.2,805.0 684.3,802.9 685.5,801.5C686.7,800.1 687.7,799.3 689.0,798.6C690.3,797.9 692.0,797.6 693.5,797.5C695.0,797.4 696.7,797.9 698.0,797.7C699.3,797.5 700.3,797.1 701.5,796.5C702.7,795.9 703.7,795.2 705.0,794.0C706.3,792.8 708.0,790.8 709.5,789.0C711.0,787.2 712.6,785.1 714.0,783.4C715.4,781.7 716.7,780.0 717.8,779.0C718.9,778.0 719.6,777.3 720.4,777.5C721.2,777.7 721.9,778.2 722.5,780.0C723.1,781.8 723.4,785.8 723.8,788.0C724.2,790.2 724.6,791.7 725.0,793.0C725.4,794.3 725.9,796.2 726.3,796.0C726.7,795.8 727.0,794.5 727.5,792.0C728.0,789.5 728.5,783.8 729.0,781.0C729.5,778.2 730.1,775.8 730.6,775.5C731.1,775.2 731.7,776.9 732.2,779.0C732.7,781.1 733.2,785.3 733.7,788.3C734.2,791.3 734.8,794.9 735.3,797.0C735.8,799.1 736.3,800.9 736.8,801.0C737.3,801.1 737.9,799.4 738.5,797.5C739.1,795.6 739.7,792.5 740.5,789.6C741.3,786.7 742.4,782.7 743.3,780.0C744.2,777.3 745.2,775.0 746.0,773.5C746.8,772.0 747.4,771.5 748.0,771.0C748.6,770.5 749.0,770.0 749.6,770.4C750.2,770.8 751.1,772.1 751.8,773.5C752.5,774.9 753.2,776.5 754.0,778.6C754.8,780.7 755.6,783.6 756.3,786.0C757.0,788.4 757.7,791.1 758.3,793.0C758.9,794.9 759.5,796.4 760.0,797.5C760.5,798.6 760.8,799.9 761.4,799.6C762.0,799.4 762.8,797.6 763.5,796.0C764.2,794.4 764.8,791.8 765.5,790.0C766.2,788.2 767.0,786.2 767.7,785.0C768.4,783.8 769.1,783.3 769.6,782.7C770.1,782.1 770.5,781.5 771.0,781.2C771.5,780.9 772.1,780.6 772.6,781.0C773.1,781.4 773.5,782.0 774.0,783.5C774.5,785.0 775.1,787.2 775.6,789.7C776.1,792.2 776.8,795.8 777.3,798.5C777.8,801.2 778.3,805.2 778.8,806.0C779.3,806.8 779.8,804.5 780.3,803.0C780.8,801.5 781.3,799.0 781.8,796.9C782.3,794.8 782.8,791.9 783.2,790.5C783.6,789.1 784.0,788.4 784.4,788.8C784.8,789.2 785.3,791.0 785.7,793.0C786.1,795.0 786.5,798.1 787.0,801.0C787.5,803.9 788.0,807.8 788.5,810.5C789.0,813.2 789.5,815.7 790.0,817.5C790.5,819.3 791.1,820.6 791.6,821.5C792.1,822.4 792.5,823.1 793.0,822.6C793.5,822.1 794.0,820.4 794.5,818.5C795.0,816.6 795.5,814.1 796.0,811.4C796.5,808.6 797.0,804.4 797.5,802.0C798.0,799.6 798.2,797.2 798.7,797.0C799.2,796.8 799.7,798.2 800.2,800.5C800.7,802.8 801.2,808.0 801.7,811.0C802.2,814.0 802.5,816.7 803.0,818.5C803.5,820.3 803.9,821.7 804.4,821.6C804.9,821.5 805.3,819.7 805.8,818.0C806.3,816.3 807.0,812.9 807.5,811.4C808.0,809.9 808.5,809.4 809.0,809.0C809.5,808.6 810.0,808.6 810.5,809.3C811.0,810.0 811.5,811.6 812.0,813.0C812.5,814.4 813.0,816.3 813.6,817.5C814.2,818.7 814.9,819.5 815.6,820.0C816.3,820.5 817.0,821.3 817.7,820.6C818.4,819.9 819.1,817.1 819.8,815.6C820.5,814.1 821.1,811.5 821.8,811.4C822.5,811.3 823.3,813.8 824.0,815.0C824.7,816.2 825.2,818.0 826.0,818.5C826.8,819.0 827.7,818.2 828.5,818.0C829.3,817.8 830.2,818.2 831.0,817.5C831.8,816.8 832.3,814.9 833.0,814.0C833.7,813.1 834.3,813.0 835.0,812.4C835.7,811.8 836.3,810.8 837.0,810.3C837.7,809.8 838.3,808.7 839.0,809.3C839.7,809.9 840.6,812.6 841.3,814.0C842.0,815.4 842.4,817.4 843.3,817.5C844.2,817.6 845.5,815.5 846.5,814.6C847.5,813.8 848.9,812.8 849.4,812.4"/>
<path class="cv" d="M181.0,1150.0C181.3,1140.0 182.2,1111.7 183.0,1090.0C183.8,1068.3 184.8,1043.3 186.0,1020.0C187.2,996.7 188.7,973.3 190.0,950.0C191.3,926.7 192.1,900.0 193.6,880.0C195.1,860.0 197.8,850.0 199.0,830.0C200.2,810.0 200.4,781.7 201.0,760.0C201.6,738.3 202.3,723.3 202.6,700.0C202.9,676.7 202.7,638.9 203.0,620.0C203.3,601.1 203.9,596.4 204.3,586.5C204.7,576.6 205.0,569.4 205.6,560.8C206.2,552.2 206.9,542.5 208.0,535.0C209.1,527.5 210.5,522.4 212.0,516.0C213.5,509.6 215.5,501.1 217.0,496.8C218.5,492.5 219.9,491.5 221.0,490.0C222.1,488.5 222.7,488.3 223.3,487.8C223.9,487.3 224.2,486.9 224.8,487.2C225.4,487.5 226.3,488.4 227.0,489.5C227.7,490.6 228.3,492.4 229.0,494.0C229.7,495.6 229.3,495.1 231.2,499.4C233.1,503.7 237.2,513.3 240.2,519.9C243.2,526.5 246.2,532.8 249.0,539.0C251.8,545.2 254.4,550.1 256.8,557.0C259.2,563.9 261.2,573.2 263.5,580.5C265.8,587.8 268.2,594.2 270.6,601.0C273.0,607.8 275.6,614.7 277.8,621.5C280.0,628.3 282.1,635.2 284.0,642.0C285.9,648.8 287.3,655.6 289.0,662.4C290.7,669.2 292.5,675.9 294.3,683.0C296.1,690.1 298.3,698.5 299.9,705.0C301.5,711.5 302.4,715.4 303.7,722.0C305.0,728.6 305.9,736.7 307.6,744.8C309.3,752.9 311.9,761.9 314.0,770.4C316.1,778.9 318.1,787.5 320.4,796.0C322.7,804.5 325.9,814.1 328.0,821.6C330.1,829.1 331.5,834.4 333.0,840.8C334.5,847.2 335.7,853.6 337.0,860.0C338.3,866.4 340.0,873.1 340.8,879.0C341.6,884.9 341.0,890.3 342.0,895.4C343.0,900.5 344.9,905.1 347.0,909.4C349.1,913.7 351.7,917.6 354.7,921.0C357.7,924.4 361.1,927.5 365.0,930.0C368.9,932.5 372.9,934.3 377.8,936.3C382.7,938.3 389.1,940.7 394.4,942.0C399.7,943.3 404.9,943.9 409.8,944.0C414.7,944.1 419.0,943.5 423.9,942.7C428.8,942.0 435.3,940.0 439.3,939.5C443.3,939.0 445.1,939.4 448.0,940.0C450.9,940.6 454.2,941.7 457.0,943.4C459.8,945.1 462.5,947.7 464.9,950.4C467.3,953.1 469.2,956.0 471.3,959.4C473.4,962.8 475.8,967.8 477.7,971.0C479.6,974.2 481.6,977.1 482.8,978.6C484.0,980.1 484.1,979.6 484.7,979.8C485.3,980.0 485.8,980.2 486.6,980.0C487.4,979.8 488.4,979.3 489.5,978.6C490.6,977.9 491.1,977.6 493.0,976.0C494.9,974.4 498.9,970.5 500.7,969.0C502.5,967.5 503.0,967.4 504.0,967.0C505.0,966.6 505.7,966.3 506.5,966.4C507.3,966.5 508.1,966.9 508.8,967.4C509.6,967.9 510.0,967.7 511.0,969.6C512.0,971.5 513.5,976.0 514.8,978.6C516.1,981.2 517.6,983.7 518.6,985.0C519.6,986.3 520.1,986.2 521.0,986.5C521.9,986.8 522.8,987.1 523.8,987.0C524.8,986.9 525.8,986.5 526.8,986.0C527.8,985.5 528.2,986.0 530.0,983.7C531.8,981.4 535.4,976.9 537.8,972.0C540.2,967.1 542.4,960.8 544.3,954.3C546.2,947.8 547.7,940.9 549.4,933.0C551.1,925.1 553.0,914.5 554.5,907.0C556.0,899.5 557.0,894.2 558.2,888.0C559.5,881.8 561.0,874.1 562.0,870.0C563.0,865.9 563.5,864.9 564.0,863.5C564.5,862.1 564.8,861.9 565.0,861.6"/>
<path class="cv" d="M565.0,861.6C565.4,865.5 566.7,872.8 567.5,885.0C568.3,897.2 569.2,918.3 570.0,935.0C570.8,951.7 571.8,972.8 572.5,985.0C573.2,997.2 573.9,1002.8 574.5,1008.0C575.1,1013.2 575.4,1015.8 576.0,1016.0C576.6,1016.2 577.1,1014.1 578.0,1009.0C578.9,1003.9 580.7,988.7 581.6,985.5C582.5,982.3 582.9,991.8 583.5,990.0C584.1,988.2 584.8,975.7 585.5,975.0C586.2,974.3 586.8,987.7 587.5,986.0C588.2,984.3 588.8,965.7 589.5,965.0C590.2,964.3 590.8,981.8 591.5,982.0C592.2,982.2 592.8,965.5 593.5,966.0C594.2,966.5 594.8,985.7 595.5,985.0C596.2,984.3 596.8,962.8 597.5,962.0C598.2,961.2 598.8,979.8 599.5,980.0C600.2,980.2 600.8,962.2 601.5,963.0C602.2,963.8 602.8,985.8 603.5,985.0C604.2,984.2 604.8,959.2 605.5,958.0C606.2,956.8 606.8,978.5 607.5,978.0C608.2,977.5 608.8,954.7 609.5,955.0C610.2,955.3 610.8,980.5 611.5,980.0C612.2,979.5 612.8,952.3 613.5,952.0C614.2,951.7 614.8,977.3 615.5,978.0C616.2,978.7 616.8,955.0 617.5,956.0C618.2,957.0 618.8,983.7 619.5,984.0C620.2,984.3 620.8,958.3 621.5,958.0C622.2,957.7 622.8,980.7 623.5,982.0C624.2,983.3 624.8,965.0 625.5,966.0C626.2,967.0 626.8,986.0 627.5,988.0C628.2,990.0 628.8,977.7 629.5,978.0C630.2,978.3 630.8,987.6 631.5,990.0C632.2,992.4 632.9,993.4 633.6,992.6C634.3,991.8 635.0,990.4 635.5,985.0C636.0,979.6 636.1,974.2 636.3,960.0C636.5,945.8 636.3,916.7 636.5,900.0C636.7,883.3 636.9,870.0 637.5,860.0C638.1,850.0 638.9,845.2 640.0,840.0C641.1,834.8 642.5,831.6 644.0,829.0C645.5,826.4 647.2,824.7 648.8,824.6C650.4,824.5 651.9,826.8 653.5,828.5C655.1,830.2 657.0,832.8 658.7,835.0C660.5,837.2 662.0,839.2 664.0,842.0C666.0,844.8 669.1,849.4 671.0,851.5C672.9,853.6 673.7,854.9 675.3,854.5C676.9,854.1 678.5,851.8 680.4,849.4C682.3,847.0 684.4,842.2 686.6,840.0C688.8,837.8 691.1,836.8 693.8,836.0C696.5,835.2 700.6,835.8 703.0,835.0C705.4,834.2 706.2,833.0 708.0,831.0C709.8,829.0 712.4,824.9 714.0,822.8C715.6,820.7 716.7,819.5 717.8,818.6C718.9,817.8 719.6,817.5 720.4,817.7C721.2,817.9 721.9,818.5 722.5,820.0C723.1,821.5 723.5,824.8 724.0,827.0C724.5,829.2 725.0,832.3 725.5,833.0C726.0,833.7 726.4,832.8 727.0,831.0C727.6,829.2 728.2,824.6 729.0,822.0C729.8,819.4 731.0,815.9 731.7,815.6C732.5,815.3 732.9,817.4 733.5,820.0C734.1,822.6 734.9,827.8 735.5,831.0C736.1,834.2 736.7,838.7 737.3,839.0C737.9,839.3 738.4,835.8 739.2,833.0C740.0,830.2 741.0,824.9 742.0,822.0C743.0,819.1 744.2,817.3 745.5,815.6C746.8,813.9 748.4,811.8 749.6,812.0C750.9,812.2 751.9,814.7 753.0,817.0C754.1,819.3 755.1,823.3 756.0,826.0C756.9,828.7 757.6,830.4 758.3,833.0C759.0,835.6 759.7,839.3 760.3,841.5C760.9,843.7 761.4,846.2 761.9,846.3C762.4,846.4 762.8,844.4 763.5,842.0C764.2,839.6 765.0,834.9 766.0,832.0C767.0,829.1 768.4,826.3 769.6,824.8C770.8,823.3 772.1,822.3 773.0,822.8C773.9,823.3 774.3,825.1 775.0,828.0C775.7,830.9 776.4,836.8 777.0,840.0C777.6,843.2 778.2,846.7 778.8,847.0C779.4,847.3 779.9,844.4 780.5,842.0C781.1,839.6 781.7,834.7 782.3,832.5C782.9,830.3 783.3,828.6 783.9,829.0C784.5,829.4 785.1,831.8 786.0,835.0C786.9,838.2 788.1,844.3 789.0,848.0C789.9,851.7 790.8,854.9 791.5,857.0C792.2,859.1 792.5,860.9 793.0,860.7C793.5,860.5 794.2,858.8 794.8,856.0C795.4,853.2 796.1,847.3 796.8,844.0C797.4,840.7 798.1,836.5 798.7,836.0C799.3,835.5 799.9,838.2 800.5,841.0C801.1,843.8 801.9,849.7 802.5,853.0C803.1,856.3 803.8,859.9 804.4,860.7C805.0,861.5 805.6,859.3 806.3,858.0C806.9,856.7 807.7,853.0 808.3,853.0C808.9,853.0 809.5,856.2 810.0,858.0C810.5,859.8 811.0,863.5 811.6,863.7C812.2,863.9 813.1,860.4 813.8,859.0C814.5,857.6 815.2,855.5 816.0,855.5C816.8,855.5 817.7,858.2 818.5,859.0C819.3,859.8 820.1,861.4 821.0,860.5C821.9,859.6 822.9,854.1 823.8,853.5C824.7,852.9 825.6,856.0 826.5,857.0C827.4,858.0 828.1,859.5 829.0,859.6C829.9,859.7 831.1,858.2 832.0,857.5C832.9,856.8 833.6,855.2 834.5,855.6C835.4,856.0 836.6,858.6 837.5,860.0C838.4,861.4 839.1,864.0 840.0,863.7C840.9,863.5 842.1,859.9 843.0,858.5C843.9,857.1 844.3,856.4 845.4,855.6C846.5,854.8 848.8,853.9 849.5,853.5"/>
<path class="cv" d="M180.3,1172.0C180.8,1169.2 181.9,1163.3 183.4,1155.5C184.9,1147.7 187.5,1135.2 189.5,1125.0C191.5,1114.8 193.9,1104.2 195.6,1094.0C197.3,1083.8 198.8,1075.5 199.7,1063.7C200.5,1051.9 199.8,1035.0 200.7,1023.0C201.5,1011.0 203.1,1003.9 204.8,992.0C206.5,980.1 209.0,965.0 211.0,951.4C213.0,937.8 215.4,922.7 217.0,910.6C218.6,898.5 220.2,888.5 220.5,879.0C220.8,869.5 219.6,862.1 219.0,853.6C218.4,845.1 217.2,836.6 217.0,828.0C216.8,819.4 217.5,812.7 217.9,802.0C218.3,791.3 219.2,774.6 219.2,764.0C219.2,753.4 218.2,749.1 217.9,738.4C217.6,727.7 217.5,712.7 217.3,700.0C217.1,687.3 216.9,675.5 216.9,662.4C216.9,649.3 216.8,631.7 217.4,621.5C218.0,611.3 219.0,606.3 220.4,601.0C221.8,595.7 224.1,592.5 225.6,589.7C227.1,587.0 228.4,585.7 229.5,584.5C230.6,583.3 231.6,582.7 232.3,582.3C233.0,581.9 233.2,581.8 233.8,582.0C234.4,582.2 235.2,582.6 236.0,583.5C236.8,584.4 237.5,585.8 238.5,587.5C239.5,589.2 240.2,589.9 242.0,593.8C243.8,597.7 246.4,604.7 249.0,611.0C251.6,617.3 254.6,624.9 257.3,631.7C260.1,638.5 262.9,645.2 265.5,652.0C268.1,658.8 270.3,665.9 272.7,672.7C275.1,679.5 277.4,685.3 279.8,693.0C282.2,700.7 284.7,710.4 287.0,719.0C289.3,727.6 291.4,736.2 293.5,744.8C295.6,753.4 298.0,761.9 299.9,770.4C301.8,778.9 303.3,787.5 305.0,796.0C306.7,804.5 308.3,814.1 310.0,821.6C311.7,829.1 313.3,834.4 315.2,840.8C317.1,847.2 319.7,853.5 321.6,860.0C323.5,866.5 325.4,873.5 326.6,880.0C327.8,886.5 327.9,892.6 329.0,899.0C330.1,905.4 331.5,912.0 333.0,918.4C334.5,924.8 336.1,931.7 338.0,937.6C339.9,943.5 342.2,949.1 344.5,954.0C346.8,958.9 349.0,962.9 352.0,967.0C355.0,971.1 358.6,975.2 362.4,978.6C366.2,982.0 370.7,985.2 375.0,987.6C379.3,990.0 383.7,991.5 388.0,992.7C392.3,993.9 396.5,994.1 400.8,995.0C405.1,995.9 409.3,996.5 413.6,997.8C417.9,999.1 422.2,1001.1 426.5,1003.0C430.8,1004.9 435.1,1006.7 439.3,1009.0C443.6,1011.3 447.7,1014.5 452.0,1017.0C456.3,1019.5 460.6,1021.9 464.9,1024.0C469.2,1026.1 474.8,1028.6 477.7,1029.8C480.6,1031.0 480.7,1030.9 482.0,1031.2C483.3,1031.5 484.2,1031.9 485.4,1031.7C486.6,1031.5 487.7,1030.8 489.0,1030.0C490.3,1029.2 491.1,1028.7 493.0,1027.0C494.9,1025.3 498.9,1021.5 500.7,1020.0C502.5,1018.5 503.0,1018.6 504.0,1018.2C505.0,1017.8 505.7,1017.5 506.5,1017.6C507.3,1017.7 508.1,1018.1 508.8,1018.6C509.6,1019.1 510.0,1018.9 511.0,1020.8C512.0,1022.7 513.5,1027.1 514.8,1029.8C516.1,1032.5 517.6,1035.4 518.6,1036.8C519.6,1038.2 520.1,1038.0 521.0,1038.3C521.9,1038.6 522.8,1038.9 523.8,1038.8C524.8,1038.7 525.8,1038.3 526.8,1037.8C527.8,1037.3 528.2,1037.8 530.0,1035.6C531.8,1033.4 535.4,1029.3 537.8,1024.7C540.2,1020.1 542.4,1014.0 544.3,1008.0C546.2,1002.0 547.7,996.3 549.4,988.8C551.1,981.3 552.7,972.1 554.5,963.0C556.3,953.9 558.5,941.3 560.0,934.0C561.5,926.7 562.5,922.3 563.5,919.0C564.5,915.7 565.3,914.8 565.7,914.0"/>
<path class="cv" d="M565.7,914.0C566.0,917.5 566.8,923.2 567.5,935.0C568.2,946.8 569.2,967.5 570.0,985.0C570.8,1002.5 571.8,1026.8 572.5,1040.0C573.2,1053.2 573.9,1058.8 574.5,1064.0C575.1,1069.2 575.4,1071.8 576.0,1071.5C576.6,1071.2 577.2,1070.6 578.0,1062.0C578.8,1053.4 580.2,1031.2 581.0,1020.0C581.8,1008.8 582.4,1001.3 583.0,995.0C583.6,988.7 583.9,981.2 584.5,982.0C585.1,982.8 585.8,1001.7 586.5,1000.0C587.2,998.3 587.8,972.7 588.5,972.0C589.2,971.3 589.8,995.5 590.5,996.0C591.2,996.5 591.8,974.2 592.5,975.0C593.2,975.8 593.8,1001.8 594.5,1001.0C595.2,1000.2 595.8,970.5 596.5,970.0C597.2,969.5 597.8,998.3 598.5,998.0C599.2,997.7 599.8,968.3 600.5,968.0C601.2,967.7 601.8,996.5 602.5,996.0C603.2,995.5 603.8,965.3 604.5,965.0C605.2,964.7 605.8,994.8 606.5,994.0C607.2,993.2 607.8,959.7 608.5,960.0C609.2,960.3 609.8,995.7 610.5,996.0C611.2,996.3 611.8,962.7 612.5,962.0C613.2,961.3 613.8,992.7 614.5,992.0C615.2,991.3 615.8,957.3 616.5,958.0C617.2,958.7 617.8,994.8 618.5,996.0C619.2,997.2 619.8,964.7 620.5,965.0C621.2,965.3 621.8,996.8 622.5,998.0C623.2,999.2 623.8,971.7 624.5,972.0C625.2,972.3 625.8,999.0 626.5,1000.0C627.2,1001.0 627.8,980.5 628.5,978.0C629.2,975.5 629.8,984.7 630.5,985.0C631.2,985.3 631.8,979.2 632.5,980.0C633.2,980.8 633.9,989.2 634.5,990.0C635.1,990.8 635.6,991.7 636.0,985.0C636.4,978.3 636.5,964.2 636.6,950.0C636.7,935.8 636.6,914.7 636.8,900.0C637.0,885.3 637.4,871.7 638.0,862.0C638.6,852.3 639.4,847.3 640.5,842.0C641.6,836.7 643.0,832.7 644.5,830.0C646.0,827.3 648.0,825.9 649.7,825.9C651.4,825.9 653.0,828.3 654.5,830.0C656.0,831.7 657.4,834.0 659.0,836.0C660.6,838.0 662.0,839.4 664.0,842.0C666.0,844.6 669.1,849.4 671.0,851.5C672.9,853.6 673.8,854.6 675.3,854.5C676.8,854.4 678.1,852.2 680.0,851.0C681.9,849.8 683.8,848.4 686.6,847.4C689.4,846.4 693.1,845.4 696.8,844.8C700.5,844.2 704.7,843.9 709.0,843.8C713.3,843.7 719.3,844.7 722.4,844.3C725.5,843.9 726.0,842.6 727.6,841.2C729.2,839.8 730.7,836.2 731.7,836.0C732.7,835.8 733.0,838.3 733.7,840.0C734.4,841.7 735.1,846.3 735.8,846.0C736.5,845.7 737.2,840.7 738.0,838.0C738.8,835.3 739.7,830.0 740.5,830.0C741.3,830.0 742.2,835.0 743.0,838.0C743.8,841.0 744.7,847.7 745.5,848.0C746.3,848.3 746.9,840.8 748.0,840.0C749.1,839.2 750.8,841.0 752.0,843.0C753.2,845.0 754.1,851.2 755.0,852.0C755.9,852.8 756.7,847.5 757.5,848.0C758.3,848.5 759.2,855.0 760.0,855.0C760.8,855.0 761.7,850.2 762.5,848.0C763.3,845.8 764.2,840.8 765.0,842.0C765.8,843.2 766.8,850.7 767.5,855.0C768.2,859.3 768.8,865.2 769.5,868.0C770.2,870.8 770.9,873.0 771.6,872.0C772.3,871.0 772.9,865.7 773.5,862.0C774.1,858.3 774.8,852.8 775.5,850.0C776.2,847.2 776.8,843.7 777.5,845.0C778.2,846.3 778.8,853.0 779.5,858.0C780.2,863.0 781.1,871.0 781.8,875.0C782.5,879.0 783.2,882.0 783.9,882.0C784.6,882.0 785.1,877.7 785.8,875.0C786.5,872.3 787.3,866.3 788.0,865.8C788.7,865.3 789.3,868.8 790.0,872.0C790.7,875.2 791.3,881.0 792.0,885.0C792.7,889.0 793.3,893.4 794.0,896.0C794.7,898.6 795.3,901.3 796.0,900.6C796.7,899.9 797.2,895.9 798.0,892.0C798.8,888.1 800.2,878.2 801.0,877.0C801.8,875.8 802.3,882.0 803.0,885.0C803.7,888.0 804.3,894.2 805.0,895.0C805.7,895.8 806.1,892.2 807.0,890.0C807.9,887.8 809.6,882.0 810.5,882.0C811.4,882.0 811.8,887.3 812.5,890.0C813.2,892.7 814.2,897.5 815.0,898.0C815.8,898.5 816.2,894.3 817.0,893.0C817.8,891.7 818.8,889.2 819.5,890.0C820.2,890.8 820.8,895.9 821.5,898.0C822.2,900.1 823.0,902.2 823.8,902.7C824.6,903.2 825.6,900.9 826.5,901.0C827.4,901.1 828.2,903.8 829.0,903.5C829.8,903.2 830.7,900.3 831.5,899.0C832.3,897.7 833.1,896.2 834.0,895.5C834.9,894.8 836.0,895.2 837.0,895.0C838.0,894.8 839.5,894.6 840.0,894.5"/>
<path class="cv" d="M181.3,1145.0C181.7,1138.2 182.6,1118.0 183.4,1104.5C184.2,1091.0 185.2,1075.6 186.4,1063.7C187.6,1051.8 189.0,1043.2 190.5,1033.0C192.0,1022.8 194.1,1014.3 195.6,1002.4C197.1,990.5 198.7,975.2 199.7,961.6C200.7,948.0 200.8,934.6 201.7,920.8C202.6,907.0 203.6,890.2 205.0,879.0C206.4,867.8 208.5,862.1 210.2,853.6C211.9,845.1 213.9,836.5 215.4,828.0C216.9,819.5 218.1,810.9 219.2,802.4C220.3,793.9 221.0,785.4 221.8,776.8C222.7,768.2 223.0,757.8 224.3,751.0C225.6,744.2 227.8,739.2 229.4,735.9C231.0,732.6 232.7,732.0 234.0,731.0C235.3,730.0 236.6,729.9 237.5,729.6C238.4,729.3 238.7,729.2 239.7,729.4C240.7,729.6 242.0,729.9 243.5,730.8C245.0,731.7 246.3,731.8 248.7,734.6C251.0,737.4 254.6,742.1 257.6,747.4C260.6,752.7 263.4,759.6 266.6,766.6C269.8,773.6 273.6,782.6 276.8,789.6C280.0,796.6 283.5,803.5 285.8,808.8C288.1,814.1 290.1,818.1 290.9,821.6C291.7,825.1 290.7,827.2 290.5,830.0C290.3,832.8 289.5,834.4 289.8,838.3C290.1,842.2 290.9,847.9 292.2,853.6C293.4,859.4 295.2,865.2 297.3,872.8C299.4,880.4 302.1,890.3 304.8,899.0C307.6,907.7 310.8,916.9 313.8,924.8C316.8,932.7 319.9,940.2 322.7,946.6C325.5,953.0 328.3,957.4 330.4,963.0C332.5,968.6 334.0,974.7 335.5,980.0C337.0,985.3 338.3,989.9 339.4,995.0C340.5,1000.1 340.7,1006.1 342.0,1010.6C343.3,1015.1 344.7,1018.4 347.0,1022.0C349.3,1025.6 352.4,1029.5 356.0,1032.4C359.6,1035.3 364.5,1037.5 368.8,1039.4C373.1,1041.3 377.8,1042.9 381.6,1044.0C385.5,1045.1 388.7,1045.6 391.9,1045.8C395.1,1046.0 397.2,1045.0 400.8,1045.3C404.4,1045.6 409.3,1046.4 413.6,1047.7C417.9,1049.0 422.2,1051.0 426.5,1052.9C430.8,1054.8 435.1,1056.9 439.3,1059.0C443.6,1061.1 447.7,1063.5 452.0,1065.7C456.3,1067.9 460.6,1070.2 464.9,1072.0C469.2,1073.8 474.8,1075.6 477.7,1076.5C480.6,1077.4 480.7,1077.3 482.0,1077.5C483.3,1077.7 484.2,1078.0 485.4,1077.8C486.6,1077.5 487.7,1076.8 489.0,1076.0C490.3,1075.2 491.1,1074.7 493.0,1073.0C494.9,1071.3 498.9,1067.3 500.7,1065.7C502.5,1064.1 502.9,1063.8 504.0,1063.3C505.1,1062.8 506.2,1062.5 507.0,1062.5C507.8,1062.5 508.3,1062.9 509.0,1063.4C509.7,1063.9 510.0,1063.8 511.0,1065.7C512.0,1067.6 513.5,1072.3 514.8,1074.6C516.1,1076.8 517.9,1078.2 519.0,1079.2C520.1,1080.2 520.7,1080.1 521.5,1080.3C522.3,1080.5 523.1,1080.6 524.0,1080.5C524.9,1080.4 526.0,1080.2 527.0,1079.6C528.0,1079.0 528.2,1079.3 530.0,1077.0C531.8,1074.7 535.4,1070.7 537.8,1066.0C540.2,1061.3 542.4,1055.0 544.3,1049.0C546.2,1043.0 547.7,1036.8 549.4,1030.0C551.1,1023.2 552.7,1015.0 554.5,1008.0C556.3,1001.0 558.5,993.1 560.0,988.0C561.5,982.9 562.5,979.9 563.5,977.5C564.5,975.1 565.3,974.2 565.7,973.6"/>
<path class="cv" d="M565.7,973.6C566.0,976.3 566.8,980.6 567.5,990.0C568.2,999.4 569.2,1015.8 570.0,1030.0C570.8,1044.2 571.8,1064.2 572.5,1075.0C573.2,1085.8 573.9,1090.5 574.5,1095.0C575.1,1099.5 575.4,1102.0 576.0,1102.0C576.6,1102.0 577.2,1099.0 578.0,1095.0C578.8,1091.0 579.6,1084.3 580.5,1078.0C581.4,1071.7 582.5,1063.0 583.4,1057.0C584.3,1051.0 585.1,1046.8 586.0,1042.0C586.9,1037.2 588.0,1031.2 588.8,1028.5C589.5,1025.8 589.9,1026.2 590.5,1026.0C591.1,1025.8 591.7,1025.5 592.4,1027.0C593.1,1028.5 593.7,1032.8 594.5,1035.0C595.3,1037.2 596.5,1040.5 597.3,1040.0C598.1,1039.5 598.8,1034.3 599.5,1032.0C600.2,1029.7 600.9,1027.2 601.5,1026.0C602.1,1024.8 602.4,1024.2 603.0,1025.0C603.6,1025.8 604.2,1028.8 605.0,1031.0C605.8,1033.2 606.8,1038.2 607.5,1038.0C608.2,1037.8 608.9,1032.5 609.5,1030.0C610.1,1027.5 610.4,1024.5 611.0,1023.0C611.6,1021.5 612.4,1020.3 613.0,1021.0C613.6,1021.7 614.1,1024.5 614.8,1027.0C615.5,1029.5 616.2,1035.2 617.0,1036.0C617.8,1036.8 618.8,1032.3 619.5,1032.0C620.2,1031.7 620.8,1034.2 621.5,1034.0C622.2,1033.8 622.8,1030.8 623.5,1031.0C624.2,1031.2 625.2,1033.7 626.0,1035.0C626.8,1036.3 627.3,1037.8 628.0,1039.0C628.7,1040.2 629.2,1041.7 630.0,1042.0C630.8,1042.3 631.6,1041.5 632.5,1041.0C633.4,1040.5 634.6,1040.8 635.4,1039.0C636.1,1037.2 636.6,1033.0 637.0,1030.0C637.4,1027.0 637.9,1029.3 638.0,1021.0C638.1,1012.7 637.6,991.8 637.5,980.0C637.4,968.2 637.3,961.0 637.2,950.0C637.1,939.0 637.0,924.8 637.0,914.0C637.0,903.2 637.1,892.8 637.5,885.0C637.9,877.2 638.5,872.3 639.5,867.0C640.5,861.7 642.2,856.1 643.5,853.0C644.8,849.9 645.8,849.3 647.0,848.5C648.2,847.7 649.3,847.5 650.6,848.0C651.9,848.5 653.4,850.0 655.0,851.5C656.6,853.0 659.0,855.1 660.5,857.0C662.0,858.9 662.5,860.9 664.0,862.7C665.5,864.5 668.0,866.3 669.4,867.6C670.8,868.9 671.5,869.8 672.5,870.5C673.5,871.2 674.2,872.5 675.7,872.0C677.2,871.5 679.2,869.3 681.5,867.8C683.8,866.2 686.8,864.3 689.7,862.7C692.6,861.1 696.4,859.0 698.9,858.0C701.4,857.0 703.3,857.0 705.0,856.8C706.7,856.6 707.1,856.8 709.0,857.0C710.9,857.2 713.9,857.2 716.3,858.0C718.7,858.8 721.3,860.2 723.5,861.7C725.7,863.2 728.1,865.1 729.6,866.8C731.1,868.5 731.9,870.1 732.7,872.0C733.5,873.9 733.8,876.3 734.3,878.0C734.8,879.7 735.2,882.0 735.7,882.0C736.2,882.0 736.9,880.2 737.5,878.0C738.1,875.8 738.9,871.0 739.5,869.0C740.1,867.0 740.8,865.3 741.4,865.8C742.0,866.3 742.5,869.5 743.0,872.0C743.5,874.5 743.9,878.8 744.3,881.0C744.7,883.2 745.0,885.0 745.5,885.0C746.0,885.0 746.7,882.8 747.3,881.0C747.9,879.2 748.6,875.7 749.3,874.0C750.0,872.3 751.0,870.3 751.6,871.0C752.2,871.7 752.5,874.0 753.0,878.0C753.5,882.0 754.0,890.4 754.5,895.0C755.0,899.6 755.2,904.7 755.7,905.7C756.2,906.7 756.7,903.6 757.3,901.0C757.9,898.4 758.7,892.7 759.5,890.0C760.3,887.3 761.2,885.0 761.9,885.0C762.6,885.0 762.9,886.7 763.5,890.0C764.1,893.3 764.8,900.7 765.5,905.0C766.2,909.3 766.8,914.8 767.5,916.0C768.2,917.2 768.8,914.0 769.5,912.0C770.2,910.0 770.8,905.7 771.5,904.0C772.2,902.3 772.9,901.1 773.6,901.6C774.3,902.1 774.7,903.9 775.5,907.0C776.3,910.1 777.5,916.2 778.5,920.0C779.5,923.8 780.5,929.0 781.3,930.0C782.1,931.0 782.8,928.5 783.5,926.0C784.2,923.5 785.0,917.7 785.8,915.0C786.5,912.3 787.2,910.3 788.0,909.8C788.8,909.3 789.5,910.5 790.5,912.0C791.5,913.5 792.8,916.8 794.0,919.0C795.2,921.2 796.8,923.2 798.0,925.0C799.2,926.8 800.1,928.3 801.0,929.5C801.9,930.7 802.7,932.6 803.4,932.4C804.1,932.1 804.5,929.4 805.0,928.0C805.5,926.6 805.9,924.5 806.4,924.0C806.9,923.5 807.2,924.0 808.0,925.0C808.8,926.0 810.1,928.6 811.0,930.0C811.9,931.4 812.8,933.3 813.6,933.4C814.4,933.5 815.1,931.6 816.0,930.5C816.9,929.4 817.7,927.8 819.0,927.0C820.3,926.2 823.0,926.2 823.8,926.0"/>
<path class="cv" d="M183.5,1307.0C184.4,1306.5 187.1,1305.0 189.0,1304.0C190.9,1303.0 193.1,1302.0 194.7,1300.8C196.3,1299.6 197.3,1297.8 198.5,1297.0C199.7,1296.2 200.8,1295.5 201.8,1295.7C202.8,1295.9 203.6,1296.8 204.5,1298.0C205.4,1299.2 206.2,1301.2 207.0,1303.0C207.8,1304.8 208.7,1307.3 209.5,1309.0C210.3,1310.7 211.1,1312.2 212.0,1313.0C212.9,1313.8 214.0,1314.0 215.0,1314.0C216.0,1314.0 216.9,1314.2 218.0,1313.0C219.1,1311.8 220.3,1309.0 221.5,1307.0C222.7,1305.0 224.1,1302.1 225.3,1300.8C226.6,1299.5 227.6,1299.4 229.0,1299.2C230.4,1299.0 232.1,1299.2 233.5,1299.8C234.9,1300.4 236.2,1301.6 237.5,1303.0C238.8,1304.4 240.3,1306.5 241.6,1308.0C242.8,1309.5 244.0,1311.2 245.0,1312.0C246.0,1312.8 246.8,1313.5 247.8,1313.0C248.8,1312.5 250.0,1310.7 251.0,1309.0C252.0,1307.3 252.8,1305.2 253.9,1303.0C255.0,1300.8 256.3,1297.6 257.5,1295.5C258.7,1293.4 260.0,1290.8 261.0,1290.6C262.0,1290.3 262.7,1292.5 263.5,1294.0C264.3,1295.5 264.9,1298.0 266.0,1299.8C267.1,1301.5 268.6,1303.3 270.0,1304.5C271.4,1305.7 272.6,1306.4 274.3,1307.0C276.0,1307.6 278.0,1307.8 280.0,1308.0C282.0,1308.2 284.0,1307.8 286.5,1308.0C289.0,1308.2 292.3,1309.2 295.0,1309.5C297.7,1309.8 299.1,1309.9 302.9,1310.0C306.7,1310.1 312.9,1310.2 318.0,1310.2C323.1,1310.2 329.0,1310.1 333.5,1310.0C338.0,1309.9 341.2,1310.0 345.0,1309.8C348.8,1309.6 353.5,1309.5 356.0,1309.0C358.5,1308.5 358.7,1307.7 360.0,1307.0C361.3,1306.3 362.7,1305.6 364.0,1305.0C365.3,1304.4 366.6,1303.6 368.0,1303.3C369.4,1303.0 370.9,1303.0 372.2,1303.0C373.4,1303.0 374.5,1303.2 375.5,1303.5C376.5,1303.8 377.4,1304.3 378.4,1305.0C379.4,1305.7 380.5,1306.8 381.5,1307.5C382.5,1308.2 382.2,1309.1 384.5,1309.4C386.8,1309.8 391.6,1309.6 395.0,1309.6C398.4,1309.6 402.2,1309.6 405.0,1309.4C407.8,1309.2 410.0,1308.9 412.0,1308.5C414.0,1308.1 415.4,1308.0 417.0,1307.0C418.6,1306.0 420.1,1304.5 421.5,1302.5C422.9,1300.5 424.3,1297.5 425.3,1294.7C426.3,1292.0 426.8,1289.5 427.5,1286.0C428.2,1282.5 428.2,1282.8 429.4,1274.0C430.6,1265.2 432.8,1248.8 434.5,1233.5C436.2,1218.2 437.7,1199.4 439.6,1182.4C441.5,1165.4 444.2,1143.0 445.7,1131.4C447.2,1119.8 447.6,1117.7 448.5,1113.0C449.4,1108.3 450.0,1105.8 450.8,1103.0C451.6,1100.2 452.6,1097.5 453.5,1096.0C454.4,1094.5 455.3,1093.5 456.3,1093.7C457.3,1093.9 458.4,1095.1 459.5,1097.0C460.6,1098.9 461.9,1102.2 463.0,1105.0C464.1,1107.8 465.0,1110.7 465.8,1114.0C466.6,1117.3 467.3,1120.3 468.0,1125.0C468.7,1129.7 469.5,1135.8 470.2,1142.0C470.9,1148.2 471.1,1150.2 472.0,1162.0C472.9,1173.8 474.4,1197.7 475.3,1213.0C476.2,1228.3 476.7,1244.5 477.3,1254.0C477.9,1263.5 478.3,1265.7 478.8,1270.0C479.3,1274.3 479.8,1276.7 480.4,1280.0C481.0,1283.3 481.6,1287.2 482.3,1290.0C483.0,1292.8 483.7,1294.5 484.5,1296.7C485.3,1298.9 486.3,1301.3 487.3,1303.0C488.3,1304.7 489.4,1306.0 490.6,1307.0C491.8,1308.0 493.1,1308.5 494.5,1309.0C495.9,1309.5 497.4,1309.2 498.8,1310.0C500.2,1310.8 501.6,1312.8 503.0,1314.0C504.4,1315.2 505.8,1316.2 507.0,1317.0C508.2,1317.8 509.2,1319.0 510.5,1319.0C511.8,1319.0 513.2,1318.0 514.5,1317.0C515.8,1316.0 517.1,1314.6 518.4,1313.0C519.7,1311.4 521.1,1309.0 522.5,1307.5C523.9,1306.0 525.1,1304.3 526.5,1304.0C527.9,1303.7 529.3,1304.7 531.0,1305.5C532.7,1306.3 534.9,1307.8 536.7,1309.0C538.5,1310.2 540.3,1312.0 542.0,1313.0C543.7,1314.0 545.8,1315.3 547.0,1315.0C548.2,1314.7 548.6,1312.5 549.3,1311.0C550.0,1309.5 550.0,1306.8 551.0,1306.0C552.0,1305.2 553.7,1306.2 555.0,1306.5C556.3,1306.8 557.5,1307.5 559.0,1308.0C560.5,1308.5 562.3,1309.2 564.0,1309.5C565.7,1309.8 567.5,1310.2 569.4,1310.0C571.3,1309.8 573.5,1309.2 575.5,1308.5C577.5,1307.8 579.9,1306.5 581.6,1306.0C583.3,1305.5 584.1,1305.6 585.5,1305.8C586.9,1306.0 588.0,1305.9 589.8,1307.0C591.5,1308.1 594.0,1310.5 596.0,1312.5C598.0,1314.5 600.0,1316.8 602.0,1319.0C604.0,1321.2 606.0,1323.8 608.0,1326.0C610.0,1328.2 612.4,1330.7 614.3,1332.4C616.2,1334.1 617.8,1335.2 619.5,1336.0C621.2,1336.8 623.0,1337.4 624.5,1337.5C626.0,1337.6 627.4,1337.2 628.8,1336.5C630.2,1335.8 631.7,1334.7 632.7,1333.5C633.7,1332.3 634.3,1331.2 635.0,1329.5C635.7,1327.8 636.2,1327.1 636.7,1323.0C637.2,1318.9 637.6,1311.4 638.0,1305.0C638.4,1298.6 638.7,1298.2 638.8,1284.5C638.9,1270.8 638.3,1241.8 638.4,1223.0C638.5,1204.2 638.8,1187.3 639.4,1172.0C640.0,1156.7 641.1,1140.7 641.8,1131.4C642.5,1122.1 643.0,1120.4 643.7,1116.0C644.4,1111.6 645.0,1108.2 645.9,1105.0C646.8,1101.8 648.1,1098.4 649.3,1096.5C650.5,1094.6 651.8,1093.9 653.0,1093.7C654.2,1093.5 655.3,1094.3 656.3,1095.5C657.3,1096.7 658.2,1098.5 659.0,1100.8C659.8,1103.0 660.6,1105.6 661.3,1109.0C662.0,1112.4 662.5,1117.0 663.3,1121.0C664.0,1125.0 664.9,1129.2 665.8,1133.0C666.6,1136.8 667.4,1140.5 668.4,1143.7C669.4,1147.0 670.6,1149.8 671.8,1152.5C673.0,1155.2 673.9,1157.3 675.5,1160.0C677.1,1162.7 679.5,1165.8 681.5,1168.5C683.5,1171.2 685.7,1173.6 687.8,1176.0C689.9,1178.4 692.0,1180.6 694.0,1183.0C696.0,1185.4 698.3,1188.1 700.0,1190.6C701.7,1193.1 702.7,1195.3 704.0,1198.0C705.3,1200.7 706.7,1203.4 708.0,1207.0C709.3,1210.6 710.7,1215.1 712.0,1219.5C713.3,1223.9 713.6,1226.1 716.0,1233.5C718.4,1240.9 723.0,1254.1 726.5,1264.0C730.0,1273.9 734.5,1286.4 736.7,1292.7C739.0,1299.0 739.0,1298.6 740.0,1302.0C741.0,1305.4 742.1,1309.5 742.9,1313.0C743.7,1316.5 744.1,1319.6 744.6,1323.0C745.1,1326.4 745.6,1330.5 746.0,1333.5C746.4,1336.5 746.7,1339.0 747.0,1341.0C747.3,1343.0 747.6,1344.6 748.0,1345.7C748.4,1346.8 748.8,1347.2 749.3,1347.5C749.8,1347.8 749.5,1347.8 751.0,1347.8C752.5,1347.8 755.6,1347.8 758.0,1347.8C760.4,1347.8 764.1,1347.8 765.3,1347.8"/>
<path class="cv" d="M884.0,978.0C884.1,965.0 884.2,924.8 884.5,900.0C884.8,875.2 884.9,859.0 885.5,829.0C886.1,799.0 886.8,758.2 888.0,720.0C889.2,681.8 891.2,628.4 892.6,600.0C894.0,571.6 894.6,567.7 896.5,549.7C898.4,531.7 901.4,511.2 904.0,492.0C906.6,472.8 909.0,452.0 911.9,434.4C914.8,416.8 918.0,400.5 921.5,386.4C925.0,372.3 929.7,358.5 933.0,350.0C936.3,341.5 938.8,338.7 941.5,335.5C944.2,332.3 946.8,330.8 949.3,330.7C951.8,330.6 954.1,332.8 956.5,335.0C958.9,337.2 960.6,338.7 963.7,344.0C966.8,349.3 971.5,358.3 975.0,367.0C978.5,375.7 981.9,386.3 984.8,396.0C987.7,405.7 990.3,415.4 992.5,425.0C994.7,434.6 996.1,444.0 998.0,453.6C999.9,463.2 1001.7,472.8 1004.0,482.4C1006.3,492.0 1009.1,503.0 1011.7,511.0C1014.3,519.0 1016.9,525.7 1019.4,530.5C1021.9,535.3 1025.2,537.1 1027.0,540.0C1028.8,542.9 1029.2,544.8 1030.5,548.0C1031.8,551.2 1033.1,553.9 1034.8,559.0C1036.5,564.1 1038.6,571.7 1040.5,578.5C1042.4,585.3 1044.4,593.5 1046.0,600.0C1047.6,606.5 1048.3,609.9 1050.0,617.6C1051.7,625.3 1054.0,636.8 1055.9,646.4C1057.9,656.0 1060.2,667.7 1061.7,675.0C1063.2,682.3 1063.7,685.5 1065.0,690.0C1066.3,694.5 1068.0,698.7 1069.3,702.0C1070.6,705.3 1071.7,707.7 1073.0,710.0C1074.3,712.3 1075.6,713.9 1077.0,715.6C1078.4,717.3 1079.9,718.9 1081.5,720.0C1083.1,721.1 1084.9,722.1 1086.6,722.3C1088.3,722.5 1089.9,721.8 1091.5,721.0C1093.1,720.2 1094.6,719.3 1096.2,717.5C1097.8,715.7 1099.4,712.9 1101.0,710.0C1102.6,707.1 1103.1,706.1 1105.8,700.0C1108.5,693.9 1113.4,682.2 1117.3,673.3C1121.2,664.4 1124.7,655.7 1128.9,646.4C1133.1,637.1 1138.2,626.6 1142.3,617.6C1146.4,608.6 1150.9,600.7 1153.8,592.6C1156.7,584.5 1158.0,575.8 1159.6,568.9C1161.2,562.0 1162.2,557.4 1163.4,551.0C1164.6,544.6 1165.1,541.9 1167.0,530.5C1168.9,519.1 1173.1,493.8 1175.0,482.4C1176.9,471.0 1177.5,467.1 1178.5,462.0C1179.5,456.9 1180.0,452.0 1180.7,451.7C1181.5,451.4 1182.0,454.9 1183.0,460.0C1184.0,465.1 1185.4,470.6 1186.5,482.4C1187.6,494.1 1188.7,517.6 1189.4,530.5C1190.2,543.4 1190.4,545.5 1191.0,560.0C1191.6,574.5 1192.4,598.4 1193.2,617.6C1194.0,636.8 1194.9,655.8 1196.0,675.0C1197.1,694.2 1198.5,715.9 1200.0,732.8C1201.5,749.7 1203.1,764.3 1205.0,776.6C1206.9,788.9 1209.1,797.4 1211.6,806.6C1214.1,815.8 1216.4,825.2 1220.0,831.6C1223.6,838.0 1229.3,841.9 1233.0,845.0C1236.7,848.1 1239.5,848.8 1242.0,850.0C1244.5,851.2 1246.2,852.1 1248.0,852.4C1249.8,852.6 1251.1,852.1 1252.5,851.5C1253.9,850.9 1255.3,848.8 1256.5,849.0C1257.7,849.2 1258.4,851.2 1259.5,853.0C1260.6,854.8 1261.0,857.2 1263.0,860.0C1265.0,862.8 1269.3,867.8 1271.5,870.0C1273.7,872.2 1274.6,872.3 1276.0,873.0C1277.4,873.7 1278.3,874.2 1280.0,874.0C1281.7,873.8 1283.8,873.0 1286.0,872.0C1288.2,871.0 1289.6,870.0 1293.0,868.0C1296.4,866.0 1302.6,862.3 1306.5,860.0C1310.4,857.7 1314.2,855.1 1316.5,854.0C1318.8,852.9 1319.1,853.5 1320.5,853.5C1321.9,853.5 1323.2,853.5 1324.8,854.0C1326.4,854.5 1328.3,855.8 1330.0,856.5C1331.7,857.2 1333.3,857.7 1334.8,858.0C1336.3,858.3 1337.6,858.5 1339.0,858.5C1340.4,858.5 1341.5,858.4 1343.0,858.0C1344.5,857.6 1346.3,856.7 1348.0,856.0C1349.7,855.3 1351.2,854.7 1353.0,854.0C1354.8,853.3 1357.0,852.4 1359.0,852.0C1361.0,851.6 1362.9,851.3 1364.7,851.5C1366.5,851.7 1368.3,852.4 1370.0,853.0C1371.7,853.6 1373.2,854.6 1374.7,855.0C1376.2,855.4 1377.6,855.5 1379.0,855.5C1380.4,855.5 1381.3,855.4 1383.0,855.0C1384.7,854.6 1387.0,853.7 1389.0,853.0C1391.0,852.3 1392.7,851.5 1394.7,850.7C1396.7,850.0 1398.8,849.0 1401.0,848.5C1403.2,848.0 1405.8,847.7 1408.0,847.4C1410.2,847.1 1412.0,846.7 1414.0,846.6C1416.0,846.5 1417.9,846.5 1419.7,846.6C1421.5,846.8 1423.3,847.1 1425.0,847.5C1426.7,847.9 1427.9,848.5 1429.7,849.0C1431.5,849.5 1433.8,850.1 1436.0,850.5C1438.2,850.9 1439.6,851.2 1443.0,851.5C1446.4,851.8 1450.5,852.3 1456.3,852.4C1462.1,852.5 1471.6,852.0 1478.0,852.0C1484.4,852.0 1490.6,852.2 1494.6,852.4C1498.6,852.6 1499.5,852.9 1502.0,853.3C1504.5,853.7 1507.3,854.4 1509.5,855.0C1511.7,855.6 1513.1,856.2 1515.0,857.0C1516.9,857.8 1520.0,859.1 1521.0,859.5"/>
<path class="cv" d="M884.0,978.0C884.2,965.0 884.5,924.8 885.0,900.0C885.5,875.2 885.8,859.0 887.0,829.0C888.2,799.0 889.8,751.5 892.0,720.0C894.2,688.5 898.0,660.0 900.0,640.0C902.0,620.0 902.8,611.9 904.0,600.0C905.2,588.1 905.7,580.5 907.0,568.9C908.3,557.3 910.1,543.3 911.9,530.5C913.7,517.7 915.4,504.8 917.6,492.0C919.8,479.2 922.1,464.8 925.0,453.6C927.9,442.4 932.1,432.0 935.0,424.8C937.9,417.6 940.1,413.5 942.5,410.5C944.9,407.5 947.1,406.6 949.3,406.6C951.5,406.6 953.4,408.4 955.5,410.5C957.6,412.6 958.9,413.4 961.8,419.0C964.7,424.6 969.5,435.0 973.0,444.0C976.5,453.0 979.8,463.2 983.0,472.8C986.2,482.4 989.3,492.1 992.5,501.7C995.7,511.3 998.8,521.5 1002.0,530.5C1005.2,539.5 1008.2,547.4 1011.7,555.4C1015.2,563.4 1019.5,571.1 1023.0,578.5C1026.5,585.9 1030.5,595.1 1032.8,600.0C1035.1,604.9 1035.5,604.7 1036.7,608.0C1037.9,611.3 1039.0,615.2 1040.0,620.0C1041.0,624.8 1041.2,627.6 1042.4,636.8C1043.6,646.0 1045.1,662.2 1047.0,675.0C1048.9,687.8 1052.2,705.1 1054.0,713.6C1055.8,722.1 1056.2,722.1 1057.5,726.0C1058.8,729.9 1060.3,733.5 1061.7,736.7C1063.1,739.9 1064.5,742.5 1066.0,745.0C1067.5,747.5 1069.3,750.2 1071.0,752.0C1072.7,753.8 1074.3,755.0 1076.0,756.0C1077.7,757.0 1079.2,757.8 1080.9,757.8C1082.6,757.8 1084.4,757.0 1086.0,756.0C1087.6,755.0 1088.8,754.2 1090.5,752.0C1092.2,749.8 1094.1,746.2 1096.0,743.0C1097.9,739.8 1098.8,739.3 1102.0,732.8C1105.2,726.3 1110.9,713.6 1115.4,704.0C1119.9,694.4 1124.5,684.6 1128.9,675.0C1133.3,665.4 1137.5,656.0 1142.0,646.4C1146.5,636.8 1151.5,627.2 1155.7,617.6C1159.9,608.0 1164.4,595.4 1167.3,588.8C1170.2,582.2 1171.4,580.6 1173.0,578.0C1174.6,575.4 1175.7,572.7 1176.9,573.4C1178.1,574.1 1179.0,577.9 1180.0,582.0C1181.0,586.1 1181.5,585.7 1182.6,598.0C1183.7,610.3 1185.2,636.7 1186.5,656.0C1187.8,675.3 1188.9,694.4 1190.3,713.6C1191.7,732.8 1193.4,755.0 1195.0,771.0C1196.6,787.0 1198.5,799.0 1200.0,809.7C1201.5,820.4 1202.7,826.6 1204.0,835.0C1205.3,843.4 1206.7,854.2 1208.0,860.0C1209.3,865.8 1210.6,866.8 1212.0,869.5C1213.4,872.2 1214.9,874.1 1216.6,876.5C1218.3,878.9 1220.1,881.8 1222.0,884.0C1223.9,886.2 1225.8,888.3 1228.0,890.0C1230.2,891.7 1232.7,892.8 1235.0,894.0C1237.3,895.2 1239.8,896.2 1241.6,897.0C1243.4,897.8 1244.6,898.2 1246.0,898.5C1247.4,898.8 1248.5,899.3 1250.0,899.0C1251.5,898.7 1253.3,897.5 1255.0,896.5C1256.7,895.5 1258.5,892.9 1260.0,893.0C1261.5,893.1 1262.7,895.3 1264.0,897.0C1265.3,898.7 1265.9,900.3 1268.0,903.0C1270.1,905.7 1274.4,910.5 1276.5,913.0C1278.6,915.5 1279.0,917.7 1280.7,918.0C1282.5,918.3 1284.7,916.0 1287.0,915.0C1289.3,914.0 1290.7,914.0 1294.8,912.3C1298.9,910.6 1306.0,907.0 1311.5,904.8C1317.0,902.6 1321.6,900.5 1328.0,899.0C1334.4,897.5 1342.8,897.1 1349.8,895.6C1356.8,894.1 1363.0,891.6 1369.7,889.8C1376.4,888.0 1384.7,885.8 1389.7,884.8C1394.8,883.8 1396.7,883.8 1400.0,883.5C1403.3,883.2 1406.7,883.0 1409.7,883.0C1412.7,883.0 1415.3,883.2 1418.0,883.5C1420.7,883.8 1423.8,884.3 1426.0,884.8C1428.2,885.3 1429.3,886.0 1431.0,886.7C1432.7,887.4 1434.3,888.2 1436.0,889.0C1437.7,889.8 1439.3,890.5 1441.0,891.2C1442.7,891.9 1444.2,892.6 1446.0,893.0C1447.8,893.4 1450.0,893.6 1452.0,893.8C1454.0,894.0 1453.7,894.2 1458.0,894.0C1462.3,893.8 1471.9,893.0 1478.0,892.7C1484.1,892.4 1490.8,892.0 1494.6,892.0C1498.4,892.0 1498.8,892.3 1501.0,892.6C1503.2,892.9 1506.0,893.5 1508.0,894.0C1510.0,894.5 1511.3,895.0 1513.0,895.7C1514.7,896.4 1515.9,897.0 1517.9,898.0C1519.9,899.0 1523.8,901.3 1525.0,902.0"/>
<path class="cv" d="M884.0,978.0C884.3,965.0 885.0,924.8 886.0,900.0C887.0,875.2 888.0,859.0 890.0,829.0C892.0,799.0 895.0,749.8 898.0,720.0C901.0,690.2 904.7,670.0 908.0,650.0C911.3,630.0 915.4,613.5 917.6,600.0C919.9,586.5 919.8,580.5 921.5,568.9C923.2,557.3 925.5,541.4 928.0,530.5C930.5,519.6 934.3,510.2 936.8,503.6C939.3,497.0 940.9,493.7 943.0,491.0C945.1,488.3 947.2,487.1 949.3,487.2C951.4,487.3 953.4,489.4 955.5,491.5C957.6,493.6 958.9,494.8 961.8,499.7C964.7,504.6 969.2,513.5 973.0,520.9C976.8,528.3 980.6,536.5 984.8,543.9C989.0,551.2 993.2,557.6 998.0,565.0C1002.8,572.4 1008.8,580.8 1013.6,588.0C1018.4,595.2 1023.5,601.5 1027.0,608.0C1030.5,614.5 1032.9,620.6 1034.8,627.0C1036.7,633.4 1037.8,638.4 1038.6,646.4C1039.4,654.4 1039.0,663.8 1039.6,675.0C1040.2,686.2 1041.3,704.4 1042.4,713.6C1043.5,722.8 1044.7,725.2 1046.0,730.0C1047.3,734.8 1047.7,736.2 1050.0,742.4C1052.3,748.6 1057.2,761.8 1059.7,767.4C1062.2,773.0 1063.1,773.4 1065.0,776.0C1066.9,778.6 1069.0,781.0 1071.0,782.8C1073.0,784.6 1075.0,786.0 1077.0,787.0C1079.0,788.0 1081.0,788.7 1082.8,788.5C1084.6,788.3 1086.4,787.3 1088.0,786.0C1089.6,784.7 1089.8,784.9 1092.4,780.9C1095.1,776.9 1099.8,768.4 1103.9,761.7C1108.1,755.0 1114.1,745.0 1117.3,740.5C1120.5,736.0 1121.1,736.6 1123.0,735.0C1124.9,733.4 1127.1,732.1 1128.9,731.0C1130.7,729.9 1132.4,729.2 1134.0,728.5C1135.6,727.8 1136.9,727.8 1138.5,727.0C1140.1,726.2 1141.9,725.3 1143.5,724.0C1145.1,722.7 1145.3,723.1 1148.0,719.4C1150.7,715.7 1156.4,706.5 1159.6,702.0C1162.8,697.5 1165.5,694.5 1167.3,692.5C1169.1,690.5 1169.5,690.4 1170.5,689.8C1171.5,689.2 1172.1,688.4 1173.0,688.7C1173.9,689.0 1175.0,689.9 1176.0,691.5C1177.0,693.1 1177.7,693.0 1178.8,698.3C1179.9,703.5 1181.3,712.4 1182.6,723.0C1183.9,733.6 1185.2,748.9 1186.5,761.7C1187.8,774.5 1189.0,787.2 1190.3,800.0C1191.5,812.8 1192.7,828.5 1194.0,838.5C1195.3,848.5 1196.2,853.7 1198.0,860.0C1199.8,866.3 1202.7,869.6 1205.0,876.5C1207.3,883.4 1209.1,894.3 1211.6,901.5C1214.1,908.7 1216.7,914.8 1220.0,919.8C1223.3,924.8 1228.3,928.5 1231.6,931.4C1234.9,934.3 1237.5,935.5 1240.0,937.0C1242.5,938.5 1244.7,940.3 1246.6,940.6C1248.5,940.9 1249.8,939.8 1251.5,939.0C1253.2,938.2 1254.9,935.8 1256.5,935.6C1258.1,935.4 1259.3,936.8 1261.0,938.0C1262.7,939.2 1263.9,940.5 1266.5,943.0C1269.1,945.5 1274.1,950.8 1276.5,953.0C1278.9,955.2 1279.0,956.3 1280.7,956.4C1282.5,956.5 1284.7,954.6 1287.0,953.5C1289.3,952.4 1290.7,951.9 1294.8,949.7C1298.9,947.6 1305.4,943.6 1311.5,940.6C1317.6,937.6 1324.8,933.9 1331.5,932.0C1338.2,930.1 1345.0,930.8 1351.4,929.0C1357.8,927.2 1363.3,924.0 1369.7,921.5C1376.1,919.0 1385.0,915.5 1389.7,914.0C1394.4,912.5 1395.3,912.6 1398.0,912.2C1400.7,911.8 1403.5,911.5 1406.0,911.5C1408.5,911.5 1410.7,912.0 1413.0,912.5C1415.3,913.0 1417.7,913.8 1419.7,914.8C1421.7,915.8 1423.3,917.1 1425.0,918.5C1426.7,919.9 1428.2,921.7 1429.7,923.0C1431.2,924.3 1432.6,925.5 1434.0,926.5C1435.4,927.5 1436.3,928.3 1438.0,929.0C1439.7,929.7 1441.8,930.3 1444.0,930.7C1446.2,931.1 1446.7,931.5 1451.0,931.4C1455.3,931.2 1463.8,930.4 1469.6,929.8C1475.4,929.2 1481.8,928.2 1486.0,928.0C1490.2,927.8 1492.2,928.2 1495.0,928.5C1497.8,928.8 1500.5,929.3 1503.0,929.8C1505.5,930.3 1507.8,930.9 1510.0,931.6C1512.2,932.3 1513.5,932.9 1516.0,934.0C1518.5,935.1 1523.5,937.3 1525.0,938.0"/>
<path class="cv" d="M884.0,978.0C884.5,965.0 885.2,931.3 887.0,900.0C888.8,868.7 893.0,811.5 894.6,790.0C896.2,768.5 895.4,775.8 896.5,771.0C897.6,766.2 899.4,764.2 901.0,761.0C902.6,757.8 904.8,761.5 906.0,752.0C907.2,742.5 906.4,718.4 908.0,704.0C909.6,689.6 913.5,680.0 915.7,665.6C918.0,651.2 919.8,628.5 921.5,617.6C923.2,606.7 924.8,606.5 926.0,600.0C927.2,593.5 927.5,586.2 929.0,578.5C930.5,570.8 933.1,559.4 935.0,553.5C936.9,547.6 938.8,545.2 940.5,543.0C942.2,540.8 943.6,539.8 945.5,540.0C947.4,540.2 949.9,542.6 952.0,544.5C954.1,546.4 955.1,546.9 958.0,551.6C960.9,556.3 965.3,564.6 969.5,572.7C973.7,580.8 978.2,591.5 983.0,600.0C987.8,608.5 992.5,613.4 998.3,623.4C1004.0,633.4 1012.0,648.7 1017.5,659.9C1023.0,671.1 1027.5,681.6 1031.0,690.6C1034.5,699.6 1037.0,705.0 1038.6,713.6C1040.2,722.2 1039.9,732.8 1040.5,742.4C1041.1,752.0 1041.2,761.4 1042.4,771.0C1043.7,780.6 1046.3,793.3 1048.0,800.0C1049.7,806.7 1050.9,807.5 1052.5,811.0C1054.1,814.5 1056.0,818.1 1057.8,821.0C1059.6,823.9 1061.6,826.2 1063.5,828.5C1065.4,830.8 1067.4,832.9 1069.3,834.6C1071.2,836.3 1073.1,837.5 1075.0,838.5C1076.9,839.5 1079.1,840.4 1080.9,840.4C1082.7,840.4 1084.4,839.5 1086.0,838.5C1087.6,837.5 1087.8,837.2 1090.5,834.6C1093.2,832.0 1097.8,827.5 1102.0,823.0C1106.2,818.5 1110.9,812.5 1115.4,807.7C1119.9,802.9 1125.6,797.0 1128.9,794.3C1132.2,791.6 1133.1,792.3 1135.0,791.5C1136.9,790.7 1138.8,789.9 1140.4,789.5C1142.0,789.1 1143.2,789.2 1144.5,789.0C1145.8,788.8 1146.8,789.0 1148.0,788.5C1149.2,788.0 1150.7,787.0 1152.0,786.0C1153.3,785.0 1153.5,785.3 1155.7,782.8C1157.9,780.3 1162.9,774.2 1165.4,771.0C1168.0,767.8 1169.7,765.1 1171.0,763.6C1172.3,762.1 1172.6,762.3 1173.3,762.0C1174.0,761.7 1174.3,761.3 1175.0,761.7C1175.7,762.1 1176.7,763.0 1177.5,764.5C1178.3,766.0 1178.8,765.1 1179.8,771.0C1180.8,776.9 1182.3,788.8 1183.6,800.0C1184.9,811.2 1186.3,828.5 1187.4,838.5C1188.5,848.5 1188.9,852.2 1190.3,860.0C1191.7,867.8 1194.1,878.9 1196.0,885.0C1197.9,891.1 1200.0,888.5 1201.8,896.8C1203.6,905.1 1204.4,924.3 1206.6,934.8C1208.8,945.3 1211.9,952.8 1215.0,959.7C1218.1,966.6 1221.4,972.2 1225.0,976.4C1228.6,980.6 1233.8,982.8 1236.6,984.7C1239.3,986.6 1240.0,987.0 1241.5,988.0C1243.0,989.0 1244.5,990.5 1245.7,990.5C1246.9,990.5 1247.8,989.0 1248.8,988.0C1249.8,987.0 1250.6,985.3 1251.6,984.7C1252.5,984.1 1253.4,984.4 1254.5,984.5C1255.6,984.6 1255.4,983.5 1258.0,985.5C1260.6,987.5 1266.1,992.6 1269.9,996.4C1273.7,1000.1 1277.9,1006.6 1280.7,1008.0C1283.5,1009.4 1284.7,1006.1 1287.0,1005.0C1289.3,1003.9 1290.2,1003.6 1294.8,1001.4C1299.4,999.2 1308.4,994.8 1314.8,992.0C1321.2,989.2 1328.6,986.1 1333.0,984.7C1337.4,983.3 1338.2,983.8 1341.0,983.5C1343.8,983.2 1345.6,984.3 1349.8,983.0C1354.0,981.7 1360.3,978.5 1366.4,975.6C1372.5,972.7 1380.3,968.4 1386.4,965.6C1392.5,962.8 1399.3,960.2 1403.0,959.0C1406.7,957.8 1406.8,958.4 1408.5,958.2C1410.2,958.0 1411.4,957.9 1413.0,958.0C1414.6,958.1 1416.3,958.4 1418.0,959.0C1419.7,959.6 1421.5,960.4 1423.0,961.4C1424.5,962.4 1425.7,963.7 1427.0,965.0C1428.3,966.3 1429.6,967.8 1431.0,969.0C1432.4,970.2 1434.0,971.5 1435.5,972.5C1437.0,973.5 1438.0,974.1 1439.7,974.7C1441.5,975.3 1443.8,975.7 1446.0,976.0C1448.2,976.3 1447.7,976.5 1453.0,976.4C1458.3,976.3 1470.8,975.7 1478.0,975.6C1485.2,975.5 1491.8,975.4 1496.0,975.6C1500.2,975.8 1500.8,976.3 1503.0,977.0C1505.2,977.7 1507.6,978.6 1509.5,979.7C1511.4,980.8 1512.8,982.4 1514.5,983.5C1516.2,984.6 1517.8,986.0 1519.5,986.4C1521.2,986.8 1522.8,986.3 1524.5,986.0C1526.2,985.7 1528.7,984.9 1529.5,984.7"/>
<path class="cv" d="M882.0,1237.5C882.6,1236.1 884.4,1232.2 885.5,1229.0C886.6,1225.8 887.6,1222.3 888.8,1218.0C890.0,1213.7 891.4,1208.4 892.5,1203.0C893.6,1197.6 894.2,1194.9 895.5,1185.6C896.8,1176.3 898.4,1159.8 900.0,1147.0C901.6,1134.2 903.3,1120.1 905.0,1108.8C906.7,1097.5 907.9,1090.3 910.0,1079.0C912.1,1067.7 914.8,1052.1 917.6,1040.9C920.4,1029.7 924.1,1020.6 927.0,1012.0C929.9,1003.4 932.4,995.1 935.0,989.0C937.6,982.9 940.6,978.4 942.6,975.6C944.6,972.9 945.6,973.1 947.0,972.5C948.4,971.9 949.5,971.5 951.0,971.7C952.5,971.9 954.2,972.7 956.0,973.5C957.8,974.3 958.6,974.8 961.8,976.5C965.0,978.2 971.8,982.5 975.0,984.0C978.2,985.5 979.0,985.0 981.0,985.3C983.0,985.6 984.9,985.7 986.8,986.0C988.7,986.3 990.6,986.5 992.5,987.0C994.4,987.5 996.7,987.9 998.3,989.0C999.9,990.1 1000.7,991.6 1002.0,993.5C1003.3,995.4 1003.4,996.8 1006.0,1000.5C1008.6,1004.2 1013.7,1010.9 1017.5,1016.0C1021.3,1021.1 1024.8,1026.2 1029.0,1031.0C1033.2,1035.8 1037.0,1040.2 1042.4,1044.7C1047.9,1049.2 1055.9,1054.3 1061.7,1058.0C1067.5,1061.7 1073.3,1065.0 1077.0,1066.8C1080.7,1068.6 1081.8,1068.2 1084.0,1068.7C1086.2,1069.2 1088.6,1069.6 1090.5,1069.7C1092.4,1069.8 1093.9,1069.5 1095.5,1069.5C1097.1,1069.5 1098.4,1069.3 1100.0,1069.7C1101.6,1070.1 1103.4,1071.0 1105.0,1072.0C1106.6,1073.0 1106.7,1072.9 1109.7,1075.4C1112.7,1077.9 1118.2,1082.9 1123.0,1087.0C1127.8,1091.1 1134.3,1096.3 1138.5,1100.0C1142.7,1103.7 1143.3,1105.2 1148.0,1109.0C1152.7,1112.8 1162.0,1119.9 1166.7,1123.0C1171.4,1126.1 1173.0,1126.2 1176.0,1127.5C1179.0,1128.8 1182.2,1129.9 1185.0,1130.5C1187.8,1131.1 1190.0,1131.0 1192.5,1131.0C1195.0,1131.0 1197.5,1130.9 1199.7,1130.5C1202.0,1130.1 1203.8,1129.1 1206.0,1128.5C1208.2,1127.9 1209.3,1127.2 1212.6,1126.8C1215.9,1126.4 1221.4,1126.3 1226.0,1126.3C1230.6,1126.3 1236.2,1126.5 1240.0,1126.8C1243.8,1127.1 1245.9,1127.4 1249.0,1128.0C1252.1,1128.6 1256.0,1129.7 1258.5,1130.5C1261.0,1131.3 1262.2,1132.1 1264.0,1133.0C1265.8,1133.9 1267.8,1134.8 1269.5,1136.0C1271.2,1137.2 1273.0,1139.2 1274.5,1140.5C1276.0,1141.8 1277.3,1144.7 1278.7,1144.0C1280.1,1143.3 1281.5,1139.1 1283.0,1136.5C1284.5,1133.9 1286.1,1130.9 1287.8,1128.6C1289.5,1126.3 1291.2,1124.3 1293.0,1122.5C1294.8,1120.7 1296.6,1119.0 1298.8,1117.6C1301.0,1116.2 1303.5,1115.1 1306.0,1114.0C1308.5,1112.9 1309.8,1112.2 1313.5,1111.0C1317.2,1109.8 1324.5,1108.0 1328.0,1106.6C1331.5,1105.2 1332.3,1104.2 1334.5,1102.7C1336.7,1101.2 1337.8,1100.8 1341.0,1097.5C1344.2,1094.2 1349.3,1089.2 1353.9,1082.8C1358.5,1076.4 1363.8,1067.6 1368.6,1059.0C1373.4,1050.4 1378.4,1039.3 1383.0,1031.0C1387.6,1022.7 1393.2,1013.6 1396.0,1009.0C1398.8,1004.4 1398.8,1004.8 1400.0,1003.5C1401.2,1002.2 1402.2,1001.0 1403.4,1001.0C1404.6,1001.0 1405.8,1002.2 1407.0,1003.5C1408.2,1004.8 1408.3,1004.6 1410.8,1009.0C1413.3,1013.4 1417.8,1022.3 1421.8,1029.6C1425.8,1036.9 1430.1,1045.7 1434.6,1053.0C1439.1,1060.3 1443.8,1067.9 1449.0,1073.6C1454.2,1079.3 1461.3,1083.9 1465.8,1087.0C1470.3,1090.1 1472.6,1090.6 1476.0,1092.0C1479.4,1093.4 1484.3,1095.0 1486.0,1095.6"/>
<path class="cv" d="M883.0,1294.0C883.8,1292.7 886.4,1289.0 888.0,1286.0C889.6,1283.0 891.3,1279.7 892.6,1276.0C893.9,1272.3 894.9,1268.5 896.0,1264.0C897.1,1259.5 898.1,1257.3 899.4,1249.0C900.7,1240.7 902.2,1226.6 904.0,1214.4C905.8,1202.2 907.7,1187.6 910.0,1176.0C912.3,1164.4 914.8,1154.0 917.6,1145.0C920.4,1136.0 924.1,1129.7 927.0,1122.0C929.9,1114.3 932.4,1104.7 935.0,1099.0C937.6,1093.3 940.5,1090.0 942.6,1087.7C944.7,1085.5 945.9,1086.0 947.5,1085.5C949.1,1085.0 950.2,1084.8 952.0,1084.8C953.8,1084.8 956.0,1085.2 958.0,1085.7C960.0,1086.2 960.2,1086.2 963.7,1087.7C967.2,1089.2 974.8,1092.9 979.0,1094.4C983.2,1095.9 985.8,1095.9 989.0,1096.5C992.2,1097.1 995.8,1097.2 998.0,1098.0C1000.2,1098.8 1000.9,1100.0 1002.5,1101.5C1004.1,1103.0 1004.5,1103.6 1007.9,1107.0C1011.3,1110.4 1018.9,1117.8 1023.0,1122.0C1027.2,1126.2 1028.0,1128.4 1032.8,1132.0C1037.6,1135.6 1045.6,1140.1 1052.0,1143.4C1058.4,1146.7 1064.6,1149.5 1071.0,1152.0C1077.4,1154.5 1084.7,1156.9 1090.5,1158.7C1096.3,1160.5 1102.0,1161.9 1105.8,1162.6C1109.6,1163.3 1111.0,1162.8 1113.5,1162.8C1116.0,1162.8 1118.8,1162.4 1121.0,1162.6C1123.2,1162.8 1125.0,1163.4 1127.0,1164.0C1129.0,1164.6 1129.2,1164.6 1132.7,1166.4C1136.2,1168.2 1142.2,1171.8 1148.0,1175.0C1153.8,1178.2 1160.9,1182.5 1167.3,1185.6C1173.7,1188.6 1181.9,1191.8 1186.5,1193.3C1191.1,1194.8 1192.2,1194.3 1195.0,1194.7C1197.8,1195.1 1200.5,1195.5 1203.4,1195.4C1206.3,1195.3 1209.6,1194.5 1212.5,1194.0C1215.4,1193.5 1217.8,1193.0 1221.0,1192.7C1224.2,1192.4 1228.2,1192.3 1232.0,1192.3C1235.8,1192.3 1240.8,1192.2 1244.0,1192.6C1247.2,1193.0 1248.8,1193.7 1251.0,1194.5C1253.2,1195.3 1255.5,1196.2 1257.5,1197.3C1259.5,1198.4 1261.2,1199.9 1263.0,1201.3C1264.8,1202.7 1266.3,1204.5 1268.0,1205.7C1269.7,1206.9 1271.5,1207.9 1273.0,1208.5C1274.5,1209.1 1275.6,1209.5 1277.2,1209.5C1278.8,1209.5 1280.7,1208.9 1282.5,1208.3C1284.3,1207.7 1284.5,1208.0 1287.8,1205.7C1291.1,1203.4 1298.0,1198.1 1302.5,1194.7C1307.0,1191.3 1311.5,1187.7 1315.0,1185.5C1318.5,1183.3 1320.7,1182.8 1323.5,1181.7C1326.3,1180.6 1329.6,1179.9 1331.9,1179.0C1334.2,1178.1 1335.7,1177.3 1337.5,1176.3C1339.3,1175.2 1339.9,1175.5 1342.9,1172.7C1345.9,1170.0 1351.4,1164.8 1355.7,1159.8C1360.0,1154.8 1364.4,1148.5 1368.6,1143.0C1372.8,1137.5 1377.0,1131.3 1381.0,1126.8C1385.0,1122.3 1389.8,1118.1 1392.4,1115.8C1395.0,1113.5 1395.3,1113.6 1396.7,1113.0C1398.1,1112.4 1399.2,1111.9 1400.7,1112.0C1402.2,1112.1 1403.8,1112.8 1405.5,1113.7C1407.2,1114.6 1407.8,1114.8 1410.8,1117.6C1413.8,1120.4 1419.1,1125.9 1423.6,1130.5C1428.1,1135.1 1432.8,1140.1 1438.0,1145.0C1443.2,1149.9 1449.3,1155.8 1454.8,1159.8C1460.3,1163.8 1466.9,1167.0 1471.0,1169.0C1475.1,1171.0 1476.7,1171.2 1479.5,1172.0C1482.3,1172.8 1485.0,1173.3 1487.9,1173.6C1490.8,1173.9 1494.0,1174.0 1497.0,1174.0C1500.0,1174.0 1503.1,1173.8 1506.0,1173.6C1508.9,1173.4 1511.7,1173.0 1514.5,1172.6C1517.3,1172.2 1521.3,1171.3 1522.7,1171.0"/>
<path class="cv" d="M1565.4,413.6C1567.0,416.7 1571.8,426.0 1575.0,431.9C1578.2,437.8 1581.7,442.6 1584.6,449.0C1587.5,455.4 1590.1,464.5 1592.3,470.3C1594.5,476.1 1596.5,480.8 1598.0,483.7C1599.5,486.6 1600.4,487.0 1601.5,488.0C1602.6,489.0 1603.5,489.8 1604.7,489.5C1605.9,489.2 1607.0,487.6 1608.5,486.0C1610.0,484.4 1610.4,483.2 1613.4,479.9C1616.5,476.6 1623.5,469.3 1626.8,466.4C1630.1,463.5 1631.2,463.4 1633.5,462.5C1635.8,461.6 1638.5,461.1 1640.3,460.7C1642.1,460.3 1643.0,460.3 1644.3,460.3C1645.6,460.3 1646.7,460.3 1648.0,460.7C1649.3,461.1 1650.7,461.6 1652.0,462.5C1653.3,463.4 1654.5,464.9 1655.6,466.4C1656.7,467.9 1657.5,469.6 1658.5,471.5C1659.5,473.4 1660.3,476.2 1661.4,478.0C1662.5,479.8 1663.7,480.9 1665.0,482.0C1666.3,483.1 1666.4,481.9 1669.0,484.7C1671.6,487.5 1676.8,494.7 1680.6,499.0C1684.4,503.3 1689.1,508.1 1692.0,510.6C1694.9,513.1 1695.9,513.2 1697.8,514.0C1699.7,514.8 1701.6,515.1 1703.6,515.4C1705.5,515.7 1707.6,515.8 1709.5,515.8C1711.4,515.8 1711.2,516.4 1715.0,515.4C1718.8,514.4 1726.4,511.7 1732.5,509.6C1738.6,507.5 1746.0,504.7 1751.7,502.9C1757.5,501.1 1763.5,499.8 1767.0,499.0C1770.5,498.2 1771.1,498.4 1773.0,498.2C1774.9,498.0 1776.8,497.9 1778.5,498.0C1780.2,498.1 1781.9,498.5 1783.5,499.0C1785.1,499.5 1786.6,500.2 1788.0,501.0C1789.4,501.8 1790.7,502.7 1792.0,504.0C1793.3,505.3 1793.9,505.4 1795.8,508.7C1797.7,512.0 1801.0,518.3 1803.5,524.0C1806.0,529.7 1808.4,535.7 1811.0,543.0C1813.6,550.3 1816.6,560.0 1818.9,568.0C1821.2,576.0 1822.7,582.3 1824.6,591.0C1826.5,599.7 1828.5,610.4 1830.4,620.0C1832.3,629.6 1834.4,640.8 1836.0,648.9C1837.6,657.0 1838.4,661.3 1840.0,668.8C1841.6,676.3 1843.9,685.8 1845.8,693.8C1847.7,701.8 1850.1,711.5 1851.5,716.8C1852.9,722.1 1853.2,723.3 1854.0,725.5C1854.8,727.7 1855.5,730.1 1856.3,730.0C1857.0,729.9 1857.7,727.8 1858.5,725.0C1859.3,722.2 1860.2,717.2 1861.0,713.0C1861.8,708.8 1862.8,704.2 1863.5,700.0C1864.2,695.8 1864.6,693.0 1865.0,688.0C1865.4,683.0 1865.6,674.8 1865.8,670.0C1866.0,665.2 1866.2,663.2 1866.0,659.0C1865.8,654.8 1865.1,648.8 1864.5,645.0C1863.9,641.2 1862.9,638.8 1862.5,636.0C1862.1,633.2 1861.8,630.2 1862.0,628.0C1862.2,625.8 1862.7,624.2 1863.5,622.5C1864.3,620.8 1865.7,619.1 1866.9,618.0C1868.1,616.9 1869.2,616.3 1870.5,615.8C1871.8,615.3 1872.8,614.9 1874.6,614.8C1876.3,614.7 1879.1,615.0 1881.0,615.3C1882.9,615.5 1884.4,616.0 1886.0,616.3C1887.6,616.6 1888.5,616.5 1890.8,617.3C1893.0,618.1 1897.1,620.0 1899.5,621.0C1901.9,622.0 1902.8,622.0 1905.4,623.0C1908.0,624.0 1912.2,625.8 1914.9,626.8C1917.6,627.8 1919.5,628.1 1921.6,628.7C1923.7,629.3 1925.6,629.9 1927.5,630.2C1929.4,630.5 1931.5,630.7 1933.0,630.6C1934.5,630.5 1935.4,630.2 1936.5,629.7C1937.6,629.2 1938.3,628.7 1939.5,627.8C1940.7,626.9 1942.2,625.6 1943.5,624.5C1944.8,623.4 1945.9,622.0 1947.6,621.4C1949.3,620.8 1951.3,620.7 1953.5,620.6C1955.7,620.5 1956.1,620.9 1960.5,620.9C1964.9,620.9 1976.1,620.7 1980.0,620.9C1983.9,621.1 1982.7,621.4 1984.0,622.0C1985.3,622.6 1986.5,623.4 1988.0,624.6C1989.5,625.8 1991.3,627.6 1993.0,629.0C1994.7,630.4 1996.2,632.0 1997.9,632.7C1999.7,633.4 2001.7,633.3 2003.5,633.3C2005.3,633.3 2005.9,633.3 2009.0,632.7C2012.1,632.1 2017.1,630.5 2022.0,629.5C2026.9,628.5 2033.1,627.6 2038.4,627.0C2043.7,626.4 2048.6,626.1 2054.0,625.8C2059.4,625.5 2065.5,625.4 2070.8,625.4C2076.1,625.4 2080.9,625.7 2086.0,626.0C2091.1,626.3 2096.6,626.7 2101.6,627.4C2106.6,628.1 2111.9,629.3 2116.0,630.3C2120.1,631.3 2123.7,632.7 2126.0,633.5C2128.3,634.3 2128.7,634.6 2130.0,635.0C2131.3,635.4 2132.2,635.9 2134.0,636.0C2135.8,636.1 2138.6,635.9 2141.0,635.7C2143.4,635.5 2146.4,635.2 2148.7,635.0C2151.0,634.8 2152.8,634.4 2155.0,634.2C2157.2,634.0 2159.6,633.8 2161.7,633.8C2163.8,633.8 2165.6,633.7 2167.5,634.0C2169.4,634.3 2171.7,635.0 2173.0,635.5C2174.3,636.0 2174.7,636.4 2175.5,637.0C2176.3,637.6 2177.0,638.2 2177.9,639.0C2178.8,639.8 2179.9,640.8 2181.0,641.5C2182.1,642.2 2182.6,642.7 2184.4,643.0C2186.2,643.3 2189.3,643.2 2192.0,643.2C2194.7,643.2 2196.8,643.0 2200.6,643.0C2204.4,643.0 2212.6,643.0 2215.0,643.0"/>
<path class="cv" d="M1559.6,605.7C1560.9,607.8 1564.1,613.4 1567.3,618.0C1570.5,622.6 1575.0,629.3 1578.8,633.5C1582.6,637.7 1587.7,641.1 1590.3,643.0C1592.9,644.9 1593.0,644.4 1594.3,644.7C1595.6,645.0 1596.8,645.5 1598.0,645.0C1599.2,644.5 1600.5,643.3 1601.8,642.0C1603.1,640.7 1603.2,640.3 1605.7,637.3C1608.2,634.3 1612.8,628.0 1617.0,623.9C1621.2,619.8 1627.5,614.8 1630.7,612.4C1634.0,610.0 1634.6,610.1 1636.5,609.3C1638.4,608.5 1640.4,607.8 1642.0,607.6C1643.6,607.4 1644.7,607.5 1646.0,608.0C1647.3,608.5 1648.8,609.1 1650.0,610.5C1651.2,611.9 1652.1,614.3 1653.0,616.5C1653.9,618.7 1653.9,620.1 1655.6,623.9C1657.3,627.7 1660.4,634.5 1663.3,639.3C1666.2,644.1 1669.4,649.0 1672.9,652.7C1676.4,656.4 1681.6,659.6 1684.4,661.3C1687.2,663.0 1687.9,662.6 1689.5,662.9C1691.1,663.2 1692.4,663.4 1694.0,663.3C1695.6,663.2 1697.4,662.8 1699.0,662.3C1700.6,661.8 1700.9,662.0 1703.6,660.4C1706.3,658.8 1710.2,656.2 1715.0,652.7C1719.8,649.2 1726.4,643.9 1732.5,639.3C1738.6,634.7 1746.0,628.9 1751.7,624.9C1757.5,620.9 1763.5,617.3 1767.0,615.3C1770.5,613.3 1771.1,613.4 1773.0,612.7C1774.9,612.1 1776.9,611.6 1778.5,611.4C1780.1,611.2 1781.2,611.4 1782.5,611.7C1783.8,612.0 1784.8,612.5 1786.0,613.3C1787.2,614.1 1788.7,615.2 1790.0,616.7C1791.3,618.2 1792.1,618.2 1794.0,622.0C1795.9,625.8 1799.4,633.2 1801.6,639.3C1803.8,645.4 1805.4,653.6 1807.0,658.5C1808.6,663.4 1809.0,661.3 1811.0,668.8C1813.0,676.3 1816.3,690.6 1818.9,703.4C1821.5,716.2 1824.3,732.2 1826.5,745.6C1828.7,759.0 1830.4,771.2 1832.3,784.0C1834.2,796.8 1836.1,809.6 1838.0,822.4C1839.9,835.2 1842.0,848.7 1843.8,860.9C1845.6,873.1 1847.4,887.4 1848.6,895.4C1849.8,903.4 1850.2,905.0 1851.0,909.0C1851.8,913.0 1852.7,919.0 1853.4,919.5C1854.1,920.0 1854.7,915.4 1855.3,912.0C1855.9,908.6 1856.3,909.2 1857.0,899.0C1857.7,888.8 1858.9,865.4 1859.6,851.0C1860.3,836.6 1860.3,825.6 1861.0,812.8C1861.7,800.0 1863.1,782.8 1864.0,774.0C1864.9,765.2 1865.5,763.8 1866.3,760.0C1867.1,756.2 1867.9,753.4 1868.8,751.0C1869.7,748.6 1870.3,747.6 1871.4,745.4C1872.5,743.2 1874.2,740.2 1875.5,738.0C1876.8,735.8 1878.1,733.9 1879.5,732.4C1880.9,730.9 1882.7,729.7 1884.0,729.0C1885.3,728.3 1886.4,728.2 1887.5,728.0C1888.6,727.8 1889.4,727.3 1890.8,727.5C1892.2,727.7 1894.1,728.3 1896.0,729.0C1897.9,729.7 1898.5,730.4 1902.0,731.6C1905.5,732.9 1913.2,735.6 1916.8,736.5C1920.4,737.4 1921.3,737.1 1923.5,737.2C1925.7,737.3 1927.8,737.4 1929.7,737.3C1931.6,737.2 1933.4,736.8 1935.0,736.4C1936.6,736.0 1937.9,735.6 1939.5,734.9C1941.1,734.2 1942.9,732.8 1944.5,732.0C1946.1,731.2 1946.2,730.5 1949.0,730.0C1951.8,729.5 1956.9,729.4 1961.0,729.3C1965.1,729.2 1970.0,729.2 1973.5,729.2C1977.0,729.2 1979.3,729.3 1982.0,729.4C1984.7,729.5 1987.7,729.6 1989.7,730.0C1991.7,730.4 1992.6,731.2 1994.0,731.7C1995.4,732.2 1996.2,733.0 1997.9,733.3C1999.7,733.6 2002.3,733.6 2004.5,733.6C2006.7,733.6 2007.9,733.8 2010.8,733.3C2013.7,732.8 2017.4,731.8 2022.0,730.8C2026.6,729.8 2034.2,728.2 2038.4,727.6C2042.6,727.0 2044.3,727.0 2047.0,726.9C2049.7,726.8 2051.9,726.6 2054.6,726.8C2057.3,727.0 2060.3,727.5 2063.0,728.0C2065.7,728.5 2066.8,729.0 2070.8,730.0C2074.8,731.0 2081.6,732.4 2087.0,734.0C2092.4,735.6 2098.4,738.1 2103.0,739.7C2107.6,741.3 2112.0,742.9 2114.6,743.8C2117.2,744.7 2117.2,744.8 2118.5,745.2C2119.8,745.6 2118.6,745.9 2122.7,746.0C2126.8,746.1 2136.0,746.0 2143.0,746.0C2150.0,746.0 2160.3,745.6 2164.9,746.0C2169.5,746.4 2168.7,747.5 2170.5,748.5C2172.3,749.5 2173.8,751.2 2176.0,751.9C2178.2,752.6 2181.2,752.4 2184.0,752.5C2186.8,752.6 2187.3,753.0 2192.5,752.7C2197.7,752.5 2211.2,751.3 2215.0,751.0"/>
<path class="cv" d="M1559.6,731.0C1561.2,733.8 1565.2,742.2 1569.0,747.5C1572.8,752.8 1579.2,759.4 1582.6,763.0C1586.0,766.6 1587.3,767.6 1589.5,769.2C1591.7,770.8 1594.2,772.1 1596.0,772.5C1597.8,772.9 1598.7,772.4 1600.0,771.8C1601.3,771.2 1601.6,772.8 1603.8,768.7C1606.0,764.7 1609.6,754.9 1613.4,747.5C1617.2,740.1 1622.3,730.9 1626.8,724.5C1631.3,718.1 1637.3,712.0 1640.3,709.0C1643.2,706.0 1643.2,707.2 1644.5,706.7C1645.8,706.2 1646.9,705.5 1648.0,706.0C1649.1,706.5 1650.0,707.7 1651.0,709.5C1652.0,711.3 1651.7,712.0 1653.7,716.8C1655.8,721.5 1659.8,730.6 1663.3,738.0C1666.8,745.4 1671.3,755.2 1674.8,761.0C1678.3,766.8 1682.1,770.3 1684.4,772.5C1686.7,774.7 1687.2,773.7 1688.5,774.0C1689.8,774.3 1690.6,774.5 1692.0,774.4C1693.4,774.3 1695.4,773.8 1697.0,773.2C1698.6,772.6 1699.0,773.0 1701.7,770.6C1704.4,768.2 1708.8,763.8 1713.0,759.0C1717.2,754.2 1721.9,747.2 1726.7,741.8C1731.5,736.4 1736.9,730.7 1742.0,726.4C1747.1,722.1 1753.7,718.1 1757.4,715.9C1761.2,713.7 1762.2,713.9 1764.5,713.4C1766.8,712.9 1769.0,712.6 1770.9,712.6C1772.8,712.6 1774.4,713.0 1776.0,713.5C1777.6,714.0 1778.8,714.6 1780.5,715.9C1782.2,717.1 1784.6,719.0 1786.5,721.0C1788.4,723.0 1789.5,723.6 1792.0,728.0C1794.5,732.4 1798.7,740.4 1801.6,747.5C1804.5,754.6 1806.7,761.4 1809.3,770.6C1811.9,779.9 1814.8,792.8 1817.0,803.0C1819.2,813.2 1820.8,820.8 1822.7,832.0C1824.6,843.2 1826.6,857.7 1828.5,870.5C1830.4,883.3 1832.4,899.2 1834.0,908.9C1835.6,918.6 1836.4,917.5 1838.0,928.8C1839.6,940.1 1842.0,960.8 1843.8,976.8C1845.6,992.8 1847.4,1013.3 1848.6,1024.8C1849.8,1036.3 1850.4,1040.2 1851.2,1046.0C1852.0,1051.8 1852.7,1058.7 1853.4,1059.4C1854.1,1060.1 1854.7,1054.2 1855.3,1050.0C1855.9,1045.8 1856.2,1043.0 1857.0,1034.0C1857.8,1025.0 1859.2,1008.7 1860.0,996.0C1860.8,983.3 1861.2,970.4 1862.0,957.6C1862.8,944.8 1863.9,931.9 1865.0,919.0C1866.1,906.1 1867.5,889.6 1868.8,880.0C1870.1,870.4 1871.6,866.0 1873.0,861.4C1874.4,856.8 1875.7,855.1 1877.0,852.5C1878.3,849.9 1879.2,847.8 1881.0,846.0C1882.8,844.2 1885.3,842.6 1887.5,841.5C1889.7,840.4 1892.0,839.6 1894.0,839.5C1896.0,839.4 1897.6,840.3 1899.5,841.0C1901.4,841.7 1902.0,842.3 1905.4,843.5C1908.8,844.7 1916.6,847.4 1920.0,848.4C1923.4,849.4 1924.1,849.3 1926.0,849.6C1927.9,849.9 1929.7,850.1 1931.4,850.0C1933.2,849.9 1934.9,849.2 1936.5,848.7C1938.1,848.2 1939.2,847.6 1941.0,846.8C1942.8,846.0 1945.3,844.8 1947.5,844.0C1949.7,843.2 1951.4,842.3 1954.0,841.9C1956.6,841.5 1959.8,841.5 1963.0,841.5C1966.2,841.5 1970.0,841.6 1973.5,841.6C1977.0,841.6 1980.8,841.6 1984.0,841.6C1987.2,841.6 1991.0,841.7 1993.0,841.9C1995.0,842.1 1994.9,842.6 1995.7,843.0C1996.5,843.4 1996.0,844.0 1997.9,844.3C1999.8,844.5 2004.0,844.5 2007.0,844.5C2010.0,844.5 2013.1,844.6 2015.7,844.3C2018.3,844.0 2020.3,843.4 2022.5,842.7C2024.7,842.0 2026.9,841.3 2028.7,840.3C2030.5,839.3 2031.9,838.1 2033.5,836.7C2035.1,835.3 2036.0,834.4 2038.4,832.0C2040.8,829.6 2045.7,824.4 2048.0,822.4C2050.3,820.4 2050.7,820.6 2052.0,820.0C2053.3,819.4 2054.5,819.1 2056.0,819.0C2057.5,818.9 2059.3,818.9 2061.0,819.1C2062.7,819.3 2063.0,819.0 2066.0,820.0C2069.0,821.0 2074.2,822.6 2079.0,824.9C2083.8,827.2 2089.6,830.8 2095.0,833.8C2100.4,836.8 2106.8,840.4 2111.4,842.7C2116.0,845.0 2120.0,846.6 2122.7,847.6C2125.4,848.6 2125.9,848.6 2127.5,849.0C2129.1,849.4 2130.1,849.6 2132.5,849.7C2134.9,849.8 2138.8,849.7 2142.0,849.6C2145.2,849.5 2149.4,848.9 2152.0,849.0C2154.6,849.1 2155.7,849.8 2157.5,850.4C2159.3,851.0 2160.2,851.2 2163.0,852.4C2165.8,853.6 2171.3,856.9 2174.6,857.8C2177.9,858.7 2180.0,858.0 2183.0,858.0C2186.0,858.0 2187.2,857.9 2192.5,857.8C2197.8,857.7 2211.2,857.4 2215.0,857.3"/>
<path class="cv" d="M1559.6,865.7C1561.2,867.1 1565.2,870.9 1569.0,874.3C1572.8,877.6 1579.5,883.5 1582.6,885.8C1585.7,888.1 1585.9,887.5 1587.5,888.0C1589.1,888.5 1590.8,888.8 1592.3,888.7C1593.8,888.6 1595.0,888.1 1596.3,887.3C1597.6,886.5 1598.1,888.3 1600.0,883.9C1601.9,879.5 1604.4,869.5 1607.6,860.9C1610.8,852.2 1615.2,840.0 1619.0,832.0C1622.8,824.0 1627.2,817.5 1630.7,812.8C1634.2,808.1 1638.0,805.7 1640.3,804.0C1642.6,802.3 1643.0,803.0 1644.3,802.8C1645.6,802.6 1646.9,801.6 1648.0,803.0C1649.1,804.4 1650.0,807.8 1651.0,811.0C1652.0,814.2 1651.7,816.3 1653.7,822.4C1655.8,828.5 1660.1,839.7 1663.3,847.4C1666.5,855.1 1670.5,864.1 1672.9,868.5C1675.4,872.9 1676.4,872.6 1678.0,874.0C1679.6,875.4 1681.2,876.4 1682.5,877.0C1683.8,877.6 1684.5,877.4 1685.5,877.4C1686.5,877.4 1686.9,877.5 1688.3,877.0C1689.7,876.5 1692.1,875.6 1694.0,874.5C1695.9,873.4 1696.6,873.4 1699.8,870.5C1703.0,867.6 1708.5,862.1 1713.0,857.0C1717.5,851.9 1721.9,845.5 1726.7,839.7C1731.5,833.9 1737.5,826.9 1742.0,822.4C1746.5,817.9 1750.8,814.7 1753.6,812.8C1756.3,810.9 1756.9,811.3 1758.5,810.8C1760.1,810.3 1761.4,810.0 1763.0,810.0C1764.6,810.0 1766.4,810.3 1768.0,810.8C1769.6,811.3 1771.0,811.7 1772.8,812.8C1774.5,813.9 1776.6,815.7 1778.5,817.6C1780.4,819.5 1781.7,820.4 1784.3,824.4C1786.9,828.4 1791.0,835.2 1793.9,841.6C1796.8,848.0 1799.4,855.4 1801.6,862.8C1803.8,870.2 1805.7,879.6 1807.3,885.8C1808.9,892.0 1809.9,892.8 1811.0,900.0C1812.1,907.2 1813.0,917.6 1814.0,928.8C1815.0,940.0 1816.2,955.8 1817.0,967.0C1817.8,978.2 1818.4,989.7 1818.9,996.0C1819.5,1002.3 1819.7,1002.4 1820.3,1005.0C1820.9,1007.6 1821.7,1009.3 1822.7,1011.4C1823.7,1013.5 1825.2,1015.6 1826.5,1017.5C1827.8,1019.4 1829.2,1021.0 1830.4,1023.0C1831.6,1025.0 1832.6,1027.0 1833.5,1029.5C1834.4,1032.0 1834.9,1030.8 1836.0,1038.0C1837.1,1045.2 1838.7,1060.6 1840.0,1072.8C1841.3,1085.0 1842.5,1098.2 1843.8,1111.0C1845.1,1123.8 1846.6,1139.5 1847.7,1149.7C1848.8,1159.9 1849.7,1166.3 1850.5,1172.0C1851.3,1177.7 1852.0,1183.0 1852.7,1184.0C1853.4,1185.0 1853.9,1180.5 1854.5,1178.0C1855.1,1175.5 1855.4,1176.8 1856.3,1168.9C1857.2,1161.0 1858.5,1143.3 1860.0,1130.5C1861.5,1117.7 1863.5,1104.8 1865.0,1092.0C1866.5,1079.2 1867.5,1063.4 1868.8,1053.6C1870.1,1043.8 1871.5,1040.4 1873.0,1033.0C1874.5,1025.6 1875.9,1017.6 1877.8,1009.0C1879.7,1000.4 1882.1,989.2 1884.3,981.4C1886.5,973.6 1889.0,966.3 1890.8,962.0C1892.6,957.7 1893.7,957.1 1895.0,955.5C1896.3,953.9 1897.5,952.8 1898.9,952.5C1900.3,952.2 1901.9,953.2 1903.5,953.8C1905.1,954.4 1905.7,954.8 1908.7,956.0C1911.7,957.2 1918.5,960.0 1921.6,961.0C1924.7,962.0 1925.6,962.0 1927.5,962.3C1929.4,962.6 1931.1,962.9 1933.0,962.7C1934.9,962.5 1937.1,961.7 1939.0,961.0C1940.9,960.3 1941.2,959.5 1944.3,958.7C1947.3,957.9 1953.0,956.5 1957.3,956.0C1961.6,955.5 1965.7,956.1 1970.3,955.4C1974.9,954.7 1980.0,953.6 1984.9,952.0C1989.8,950.4 1994.9,947.4 1999.5,945.7C2004.1,944.0 2008.4,943.0 2012.4,941.6C2016.5,940.2 2021.1,938.8 2023.8,937.6C2026.5,936.4 2026.9,935.6 2028.5,934.2C2030.1,932.9 2031.1,931.9 2033.5,929.5C2035.9,927.1 2040.8,921.6 2043.0,919.7C2045.2,917.8 2045.6,918.3 2047.0,917.9C2048.4,917.5 2049.7,917.2 2051.4,917.3C2053.1,917.4 2055.1,917.8 2057.0,918.3C2058.9,918.8 2059.6,918.6 2062.7,920.5C2065.8,922.4 2071.1,926.1 2075.7,929.5C2080.2,932.9 2085.4,937.4 2090.0,940.8C2094.6,944.2 2099.2,947.5 2103.0,949.7C2106.8,951.9 2110.2,952.9 2113.0,953.8C2115.8,954.7 2117.6,954.7 2120.0,955.0C2122.4,955.3 2122.3,955.4 2127.6,955.7C2132.9,956.0 2143.9,956.2 2152.0,956.7C2160.1,957.2 2169.2,958.2 2176.0,958.7C2182.8,959.2 2186.0,959.5 2192.5,959.5C2199.0,959.5 2211.2,959.1 2215.0,959.0"/>
<path class="cv" d="M1561.5,990.0C1562.0,990.3 1563.5,991.4 1564.5,991.7C1565.5,992.0 1566.3,992.4 1567.3,992.0C1568.3,991.6 1569.3,990.4 1570.3,989.5C1571.2,988.6 1572.1,987.1 1573.0,986.4C1573.9,985.6 1574.7,985.1 1575.5,985.0C1576.3,984.9 1577.2,984.8 1577.8,985.5C1578.4,986.2 1578.8,987.8 1579.3,989.5C1579.8,991.2 1579.8,992.7 1580.7,996.0C1581.6,999.3 1583.5,1006.9 1584.6,1009.5C1585.7,1012.1 1586.3,1011.2 1587.3,1011.7C1588.2,1012.2 1589.0,1012.5 1590.3,1012.3C1591.6,1012.1 1593.4,1011.5 1595.0,1010.5C1596.6,1009.5 1597.9,1010.6 1600.0,1006.6C1602.1,1002.6 1604.4,994.6 1607.6,986.4C1610.8,978.2 1615.2,965.9 1619.0,957.6C1622.8,949.3 1627.2,941.8 1630.7,936.5C1634.2,931.2 1638.0,927.9 1640.3,926.0C1642.6,924.1 1643.0,925.0 1644.3,925.0C1645.6,925.0 1646.9,924.6 1648.0,926.0C1649.1,927.4 1650.0,930.5 1651.0,933.5C1652.0,936.5 1651.7,937.8 1653.7,944.0C1655.8,950.2 1660.1,963.3 1663.3,971.0C1666.5,978.7 1670.6,985.9 1672.9,990.0C1675.2,994.1 1675.7,994.2 1677.0,995.7C1678.3,997.2 1679.5,998.4 1680.6,999.0C1681.7,999.6 1682.5,999.6 1683.5,999.6C1684.5,999.6 1685.0,999.5 1686.4,999.0C1687.8,998.5 1690.1,997.5 1692.0,996.3C1693.9,995.1 1694.7,995.2 1697.9,992.0C1701.1,988.8 1706.5,983.2 1711.0,976.8C1715.5,970.4 1720.3,960.5 1724.8,953.8C1729.3,947.1 1733.8,941.0 1738.0,936.5C1742.2,932.0 1747.0,928.8 1749.7,927.0C1752.5,925.2 1752.9,925.8 1754.5,925.5C1756.1,925.2 1757.7,924.9 1759.3,925.0C1760.9,925.1 1762.7,925.6 1764.3,926.2C1765.9,926.8 1767.2,927.2 1769.0,928.8C1770.8,930.3 1773.1,933.0 1775.0,935.5C1776.9,938.0 1778.0,939.1 1780.5,944.0C1783.0,948.9 1786.8,956.3 1790.0,965.0C1793.2,973.7 1796.8,984.4 1799.7,996.0C1802.6,1007.6 1805.1,1021.6 1807.3,1034.4C1809.5,1047.2 1811.1,1060.0 1813.0,1072.8C1814.9,1085.6 1817.1,1098.2 1818.9,1111.0C1820.7,1123.8 1822.3,1138.5 1823.7,1149.7C1825.1,1161.0 1826.3,1170.5 1827.5,1178.5C1828.7,1186.5 1829.1,1190.3 1830.6,1198.0C1832.1,1205.7 1834.5,1214.9 1836.4,1224.8C1838.3,1234.7 1840.7,1250.5 1842.0,1257.5C1843.3,1264.5 1843.5,1264.5 1844.2,1267.0C1844.9,1269.5 1845.3,1273.6 1846.0,1272.8C1846.7,1272.0 1847.5,1266.8 1848.5,1262.0C1849.5,1257.2 1850.4,1255.0 1851.7,1244.0C1853.0,1233.0 1855.0,1208.5 1856.5,1196.0C1858.0,1183.5 1859.3,1179.8 1861.0,1168.9C1862.7,1158.0 1865.2,1141.1 1866.9,1130.5C1868.6,1119.9 1869.6,1113.7 1871.4,1105.4C1873.2,1097.2 1875.7,1087.0 1877.8,1081.0C1879.9,1075.0 1882.4,1072.2 1884.3,1069.7C1886.2,1067.2 1887.4,1066.7 1889.0,1065.7C1890.6,1064.8 1892.2,1064.0 1894.0,1064.0C1895.8,1064.0 1897.6,1064.8 1899.5,1065.5C1901.4,1066.2 1902.0,1066.8 1905.4,1068.0C1908.8,1069.2 1916.4,1071.9 1920.0,1073.0C1923.6,1074.1 1924.8,1074.4 1927.0,1074.8C1929.2,1075.2 1931.2,1075.5 1933.0,1075.4C1934.8,1075.3 1936.4,1074.8 1938.0,1074.2C1939.6,1073.6 1940.3,1073.2 1942.7,1072.0C1945.1,1070.8 1948.6,1068.3 1952.4,1067.3C1956.2,1066.2 1960.5,1066.2 1965.4,1065.7C1970.3,1065.2 1976.5,1065.0 1981.6,1064.0C1986.7,1063.0 1991.1,1061.8 1996.0,1060.0C2000.9,1058.2 2005.6,1055.2 2010.8,1053.5C2016.0,1051.8 2023.5,1050.7 2027.0,1049.5C2030.5,1048.3 2030.4,1047.5 2032.0,1046.3C2033.6,1045.0 2034.4,1044.3 2036.8,1042.0C2039.2,1039.7 2044.1,1034.4 2046.5,1032.4C2048.9,1030.4 2049.4,1030.5 2051.0,1029.9C2052.6,1029.3 2054.2,1029.0 2056.0,1028.9C2057.8,1028.8 2060.1,1029.1 2062.0,1029.4C2063.9,1029.7 2064.5,1029.2 2067.6,1030.8C2070.7,1032.4 2076.0,1035.7 2080.6,1038.9C2085.2,1042.1 2090.2,1046.5 2095.0,1050.0C2099.8,1053.5 2106.1,1057.9 2109.7,1060.0C2113.3,1062.1 2114.3,1062.0 2116.5,1062.8C2118.7,1063.5 2120.6,1064.2 2122.7,1064.5C2124.8,1064.8 2126.8,1064.8 2129.0,1064.9C2131.2,1065.0 2131.9,1064.5 2135.7,1064.9C2139.5,1065.3 2145.3,1066.8 2152.0,1067.3C2158.7,1067.8 2167.9,1067.8 2176.0,1067.8C2184.1,1067.8 2194.1,1067.3 2200.6,1067.3C2207.1,1067.3 2212.6,1067.9 2215.0,1068.0"/>
<path class="cv" d="M1558.6,1180.4C1560.3,1181.3 1565.0,1183.9 1569.0,1186.0C1573.0,1188.1 1579.2,1191.6 1582.6,1192.9C1586.0,1194.2 1587.3,1193.7 1589.5,1193.7C1591.7,1193.7 1594.2,1193.7 1596.0,1192.9C1597.8,1192.1 1598.7,1190.5 1600.0,1189.0C1601.3,1187.5 1601.2,1187.3 1603.8,1184.0C1606.3,1180.7 1611.5,1173.4 1615.3,1168.9C1619.1,1164.5 1623.0,1160.7 1626.8,1157.3C1630.6,1153.9 1635.7,1150.2 1638.3,1148.7C1640.9,1147.2 1641.0,1148.0 1642.3,1148.0C1643.6,1148.0 1644.9,1148.0 1646.0,1148.7C1647.1,1149.5 1648.0,1151.1 1649.0,1152.5C1650.0,1153.9 1649.4,1153.9 1651.8,1157.3C1654.2,1160.7 1659.5,1168.2 1663.3,1172.7C1667.1,1177.2 1672.1,1181.7 1674.8,1184.0C1677.5,1186.3 1677.9,1186.1 1679.5,1186.8C1681.1,1187.5 1682.7,1188.0 1684.4,1188.0C1686.2,1188.0 1688.1,1187.4 1690.0,1186.7C1691.9,1186.0 1692.8,1186.0 1696.0,1184.0C1699.2,1182.0 1704.3,1178.4 1709.4,1174.6C1714.5,1170.8 1721.3,1165.2 1726.7,1161.0C1732.1,1156.8 1737.5,1153.0 1742.0,1149.7C1746.5,1146.5 1750.9,1143.2 1753.8,1141.5C1756.7,1139.8 1757.6,1140.1 1759.5,1139.8C1761.4,1139.5 1763.4,1139.3 1765.3,1139.4C1767.2,1139.5 1769.1,1140.0 1771.0,1140.6C1772.9,1141.2 1774.7,1141.7 1776.8,1143.0C1778.9,1144.3 1781.3,1146.6 1783.5,1148.7C1785.7,1150.8 1786.6,1151.0 1790.0,1155.7C1793.4,1160.4 1799.8,1169.4 1803.7,1176.8C1807.6,1184.2 1810.4,1190.9 1813.3,1199.9C1816.2,1208.9 1818.4,1220.4 1821.0,1230.6C1823.6,1240.8 1826.1,1251.8 1828.7,1261.0C1831.3,1270.2 1834.0,1278.9 1836.4,1286.0C1838.8,1293.1 1841.6,1300.1 1843.0,1303.6C1844.4,1307.1 1844.2,1306.0 1844.7,1306.8C1845.2,1307.6 1845.5,1308.7 1846.0,1308.4C1846.5,1308.1 1847.2,1306.5 1847.8,1305.0C1848.4,1303.5 1848.5,1304.4 1849.8,1299.7C1851.1,1295.0 1853.7,1284.4 1855.6,1276.7C1857.5,1269.0 1859.1,1261.3 1861.0,1253.6C1862.9,1245.9 1865.0,1237.4 1867.0,1230.6C1869.0,1223.8 1870.9,1217.8 1872.8,1213.0C1874.7,1208.2 1876.4,1204.6 1878.6,1201.8C1880.8,1199.0 1884.1,1197.2 1886.0,1196.0C1887.9,1194.8 1888.7,1194.8 1890.0,1194.5C1891.3,1194.2 1892.5,1194.0 1894.0,1194.0C1895.5,1194.0 1897.4,1194.5 1899.0,1194.8C1900.6,1195.1 1900.9,1195.3 1903.6,1196.0C1906.3,1196.7 1911.2,1198.2 1915.0,1199.0C1918.8,1199.8 1923.5,1200.5 1926.6,1200.8C1929.7,1201.1 1931.3,1200.8 1933.5,1200.7C1935.7,1200.6 1935.8,1200.5 1940.0,1199.9C1944.2,1199.3 1951.0,1198.0 1959.0,1197.0C1967.0,1196.0 1980.0,1195.2 1988.0,1194.0C1996.0,1192.8 2000.6,1191.3 2007.0,1190.0C2013.4,1188.7 2021.8,1187.5 2026.5,1186.4C2031.2,1185.3 2032.5,1184.8 2035.0,1183.5C2037.5,1182.2 2039.5,1180.0 2041.8,1178.7C2044.0,1177.5 2046.3,1176.6 2048.5,1176.0C2050.7,1175.4 2052.8,1175.0 2055.0,1175.0C2057.2,1175.0 2059.7,1175.3 2062.0,1175.8C2064.3,1176.3 2065.0,1176.3 2068.7,1177.8C2072.4,1179.2 2078.9,1182.3 2084.0,1184.5C2089.1,1186.7 2094.1,1189.1 2099.5,1191.0C2104.9,1192.9 2110.9,1194.8 2116.7,1196.0C2122.4,1197.2 2128.4,1197.5 2134.0,1198.0C2139.6,1198.5 2144.3,1198.9 2150.0,1199.0C2155.7,1199.1 2159.6,1198.8 2168.0,1198.7C2176.4,1198.7 2192.8,1198.8 2200.6,1198.7C2208.4,1198.6 2212.6,1198.1 2215.0,1198.0"/>
</svg></body></html>
